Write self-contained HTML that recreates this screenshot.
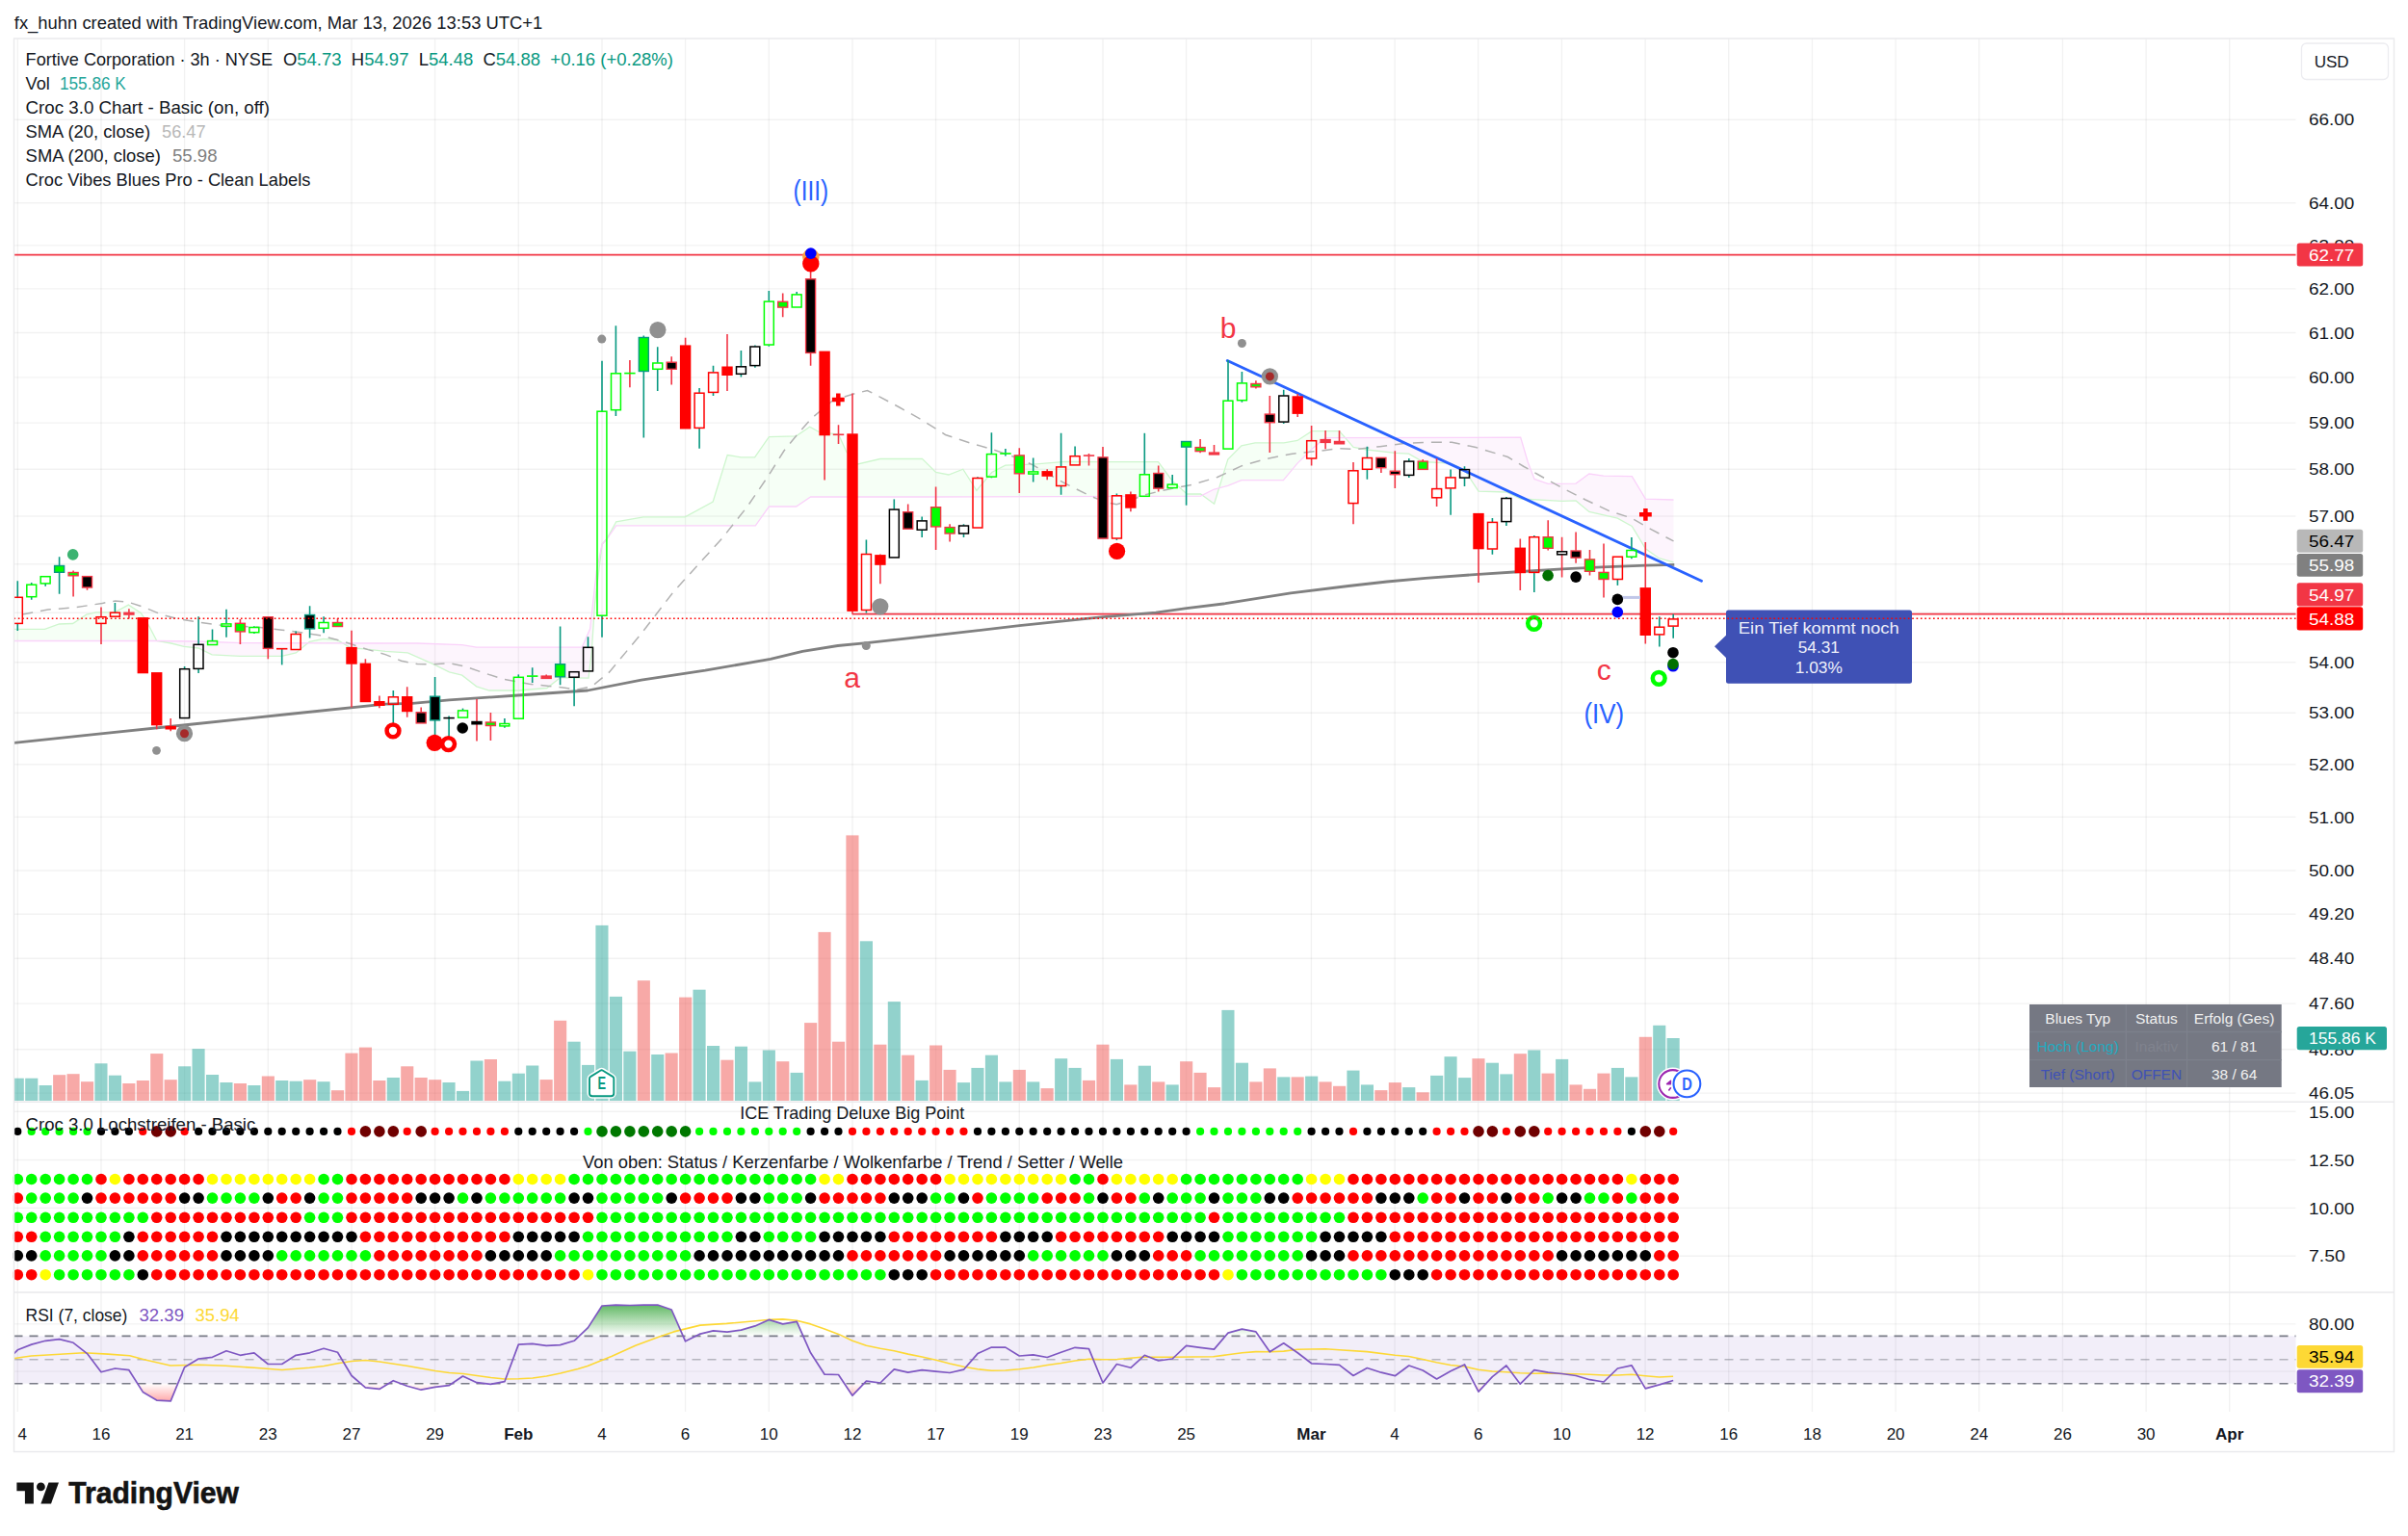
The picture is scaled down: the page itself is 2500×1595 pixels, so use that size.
<!DOCTYPE html>
<html lang="en"><head><meta charset="utf-8"><title>Fortive Corporation chart</title>
<style>html,body{margin:0;padding:0;background:#fff}body{width:2500px;height:1595px;overflow:hidden}svg{display:block}</style>
</head><body>
<svg width="2500" height="1595" viewBox="0 0 2500 1595" font-family='"Liberation Sans", Arial, sans-serif'>
<rect width="2500" height="1595" fill="#fff"/>
<g stroke="#000" stroke-opacity="0.05" stroke-width="1.4" fill="none">
<path d="M18.3 40V1466"/>
<path d="M105 40V1466"/>
<path d="M191.6 40V1466"/>
<path d="M278.3 40V1466"/>
<path d="M365 40V1466"/>
<path d="M451.6 40V1466"/>
<path d="M538.3 40V1466"/>
<path d="M625 40V1466"/>
<path d="M711.6 40V1466"/>
<path d="M798.3 40V1466"/>
<path d="M885 40V1466"/>
<path d="M971.6 40V1466"/>
<path d="M1058.3 40V1466"/>
<path d="M1145 40V1466"/>
<path d="M1231.6 40V1466"/>
<path d="M1361.4 40V1466"/>
<path d="M1448.1 40V1466"/>
<path d="M1534.7 40V1466"/>
<path d="M1621.4 40V1466"/>
<path d="M1708.1 40V1466"/>
<path d="M1794.7 40V1466"/>
<path d="M1881.4 40V1466"/>
<path d="M1968.1 40V1466"/>
<path d="M2054.7 40V1466"/>
<path d="M2141.4 40V1466"/>
<path d="M2228.1 40V1466"/>
<path d="M2314.7 40V1466"/>
<path d="M14.5 124.3H2383.5"/>
<path d="M14.5 210.7H2383.5"/>
<path d="M14.5 254.9H2383.5"/>
<path d="M14.5 299.9H2383.5"/>
<path d="M14.5 345.5H2383.5"/>
<path d="M14.5 391.9H2383.5"/>
<path d="M14.5 439.1H2383.5"/>
<path d="M14.5 487.2H2383.5"/>
<path d="M14.5 536H2383.5"/>
<path d="M14.5 585.7H2383.5"/>
<path d="M14.5 636.3H2383.5"/>
<path d="M14.5 687.8H2383.5"/>
<path d="M14.5 740.3H2383.5"/>
<path d="M14.5 793.8H2383.5"/>
<path d="M14.5 848.4H2383.5"/>
<path d="M14.5 904H2383.5"/>
<path d="M14.5 949.3H2383.5"/>
<path d="M14.5 995.3H2383.5"/>
<path d="M14.5 1042.1H2383.5"/>
<path d="M14.5 1089.7H2383.5"/>
<path d="M14.5 1135.1H2383.5"/>
<path d="M14.5 1154.3H2383.5"/>
<path d="M14.5 1204.5H2383.5"/>
<path d="M14.5 1254.4H2383.5"/>
<path d="M14.5 1304.2H2383.5"/>
<path d="M14.5 1374.9H2383.5"/>
<path d="M14.5 1424.1H2383.5"/>
</g>
<rect x="14.5" y="1387.4" width="2369" height="49.3" fill="#7e57c2" fill-opacity="0.1"/>
<g stroke-width="1.6" fill="none" stroke-dasharray="9 7"><path d="M14.5 1387.4H2383.5" stroke="#787b86"/><path d="M14.5 1436.7H2383.5" stroke="#787b86"/><path d="M14.5 1411.8H2383.5" stroke="#787b86" stroke-opacity="0.5"/></g>
<g>
<rect x="14.5" y="1119.7" width="10.3" height="23.3" fill="#26a69a" fill-opacity="0.5"/>
<rect x="26.2" y="1119.7" width="13.1" height="23.3" fill="#26a69a" fill-opacity="0.5"/>
<rect x="40.6" y="1127" width="13.1" height="16" fill="#26a69a" fill-opacity="0.5"/>
<rect x="55.1" y="1116.2" width="13.1" height="26.8" fill="#ef5350" fill-opacity="0.5"/>
<rect x="69.5" y="1115.2" width="13.1" height="27.8" fill="#ef5350" fill-opacity="0.5"/>
<rect x="84" y="1123.2" width="13.1" height="19.8" fill="#ef5350" fill-opacity="0.5"/>
<rect x="98.4" y="1104.3" width="13.1" height="38.7" fill="#26a69a" fill-opacity="0.5"/>
<rect x="112.9" y="1116.7" width="13.1" height="26.3" fill="#26a69a" fill-opacity="0.5"/>
<rect x="127.3" y="1125" width="13.1" height="18" fill="#ef5350" fill-opacity="0.5"/>
<rect x="141.8" y="1122" width="13.1" height="21" fill="#ef5350" fill-opacity="0.5"/>
<rect x="156.2" y="1094.1" width="13.1" height="48.9" fill="#ef5350" fill-opacity="0.5"/>
<rect x="170.6" y="1121.2" width="13.1" height="21.8" fill="#ef5350" fill-opacity="0.5"/>
<rect x="185.1" y="1107.3" width="13.1" height="35.7" fill="#26a69a" fill-opacity="0.5"/>
<rect x="199.5" y="1089.1" width="13.1" height="53.9" fill="#26a69a" fill-opacity="0.5"/>
<rect x="214" y="1116" width="13.1" height="27" fill="#26a69a" fill-opacity="0.5"/>
<rect x="228.4" y="1124" width="13.1" height="19" fill="#26a69a" fill-opacity="0.5"/>
<rect x="242.9" y="1125" width="13.1" height="18" fill="#ef5350" fill-opacity="0.5"/>
<rect x="257.3" y="1127" width="13.1" height="16" fill="#26a69a" fill-opacity="0.5"/>
<rect x="271.8" y="1117.5" width="13.1" height="25.5" fill="#ef5350" fill-opacity="0.5"/>
<rect x="286.2" y="1122" width="13.1" height="21" fill="#26a69a" fill-opacity="0.5"/>
<rect x="300.6" y="1122.7" width="13.1" height="20.3" fill="#26a69a" fill-opacity="0.5"/>
<rect x="315.1" y="1121.2" width="13.1" height="21.8" fill="#ef5350" fill-opacity="0.5"/>
<rect x="329.5" y="1123.2" width="13.1" height="19.8" fill="#26a69a" fill-opacity="0.5"/>
<rect x="344" y="1132.2" width="13.1" height="10.8" fill="#ef5350" fill-opacity="0.5"/>
<rect x="358.4" y="1093.6" width="13.1" height="49.4" fill="#ef5350" fill-opacity="0.5"/>
<rect x="372.9" y="1087.6" width="13.1" height="55.4" fill="#ef5350" fill-opacity="0.5"/>
<rect x="387.3" y="1122" width="13.1" height="21" fill="#ef5350" fill-opacity="0.5"/>
<rect x="401.8" y="1119" width="13.1" height="24" fill="#26a69a" fill-opacity="0.5"/>
<rect x="416.2" y="1107.3" width="13.1" height="35.7" fill="#ef5350" fill-opacity="0.5"/>
<rect x="430.6" y="1119" width="13.1" height="24" fill="#ef5350" fill-opacity="0.5"/>
<rect x="445.1" y="1121.2" width="13.1" height="21.8" fill="#ef5350" fill-opacity="0.5"/>
<rect x="459.5" y="1124" width="13.1" height="19" fill="#26a69a" fill-opacity="0.5"/>
<rect x="474" y="1132.9" width="13.1" height="10.1" fill="#26a69a" fill-opacity="0.5"/>
<rect x="488.4" y="1101.5" width="13.1" height="41.5" fill="#26a69a" fill-opacity="0.5"/>
<rect x="502.9" y="1100" width="13.1" height="43" fill="#ef5350" fill-opacity="0.5"/>
<rect x="517.3" y="1122.7" width="13.1" height="20.3" fill="#26a69a" fill-opacity="0.5"/>
<rect x="531.8" y="1114.7" width="13.1" height="28.3" fill="#26a69a" fill-opacity="0.5"/>
<rect x="546.2" y="1106.5" width="13.1" height="36.5" fill="#26a69a" fill-opacity="0.5"/>
<rect x="560.6" y="1121.1" width="13.1" height="21.9" fill="#ef5350" fill-opacity="0.5"/>
<rect x="575.1" y="1059.8" width="13.1" height="83.2" fill="#ef5350" fill-opacity="0.5"/>
<rect x="589.5" y="1081.7" width="13.1" height="61.3" fill="#26a69a" fill-opacity="0.5"/>
<rect x="604" y="1105.9" width="13.1" height="37.1" fill="#26a69a" fill-opacity="0.5"/>
<rect x="618.4" y="960.9" width="13.1" height="182.1" fill="#26a69a" fill-opacity="0.5"/>
<rect x="632.9" y="1034.9" width="13.1" height="108.1" fill="#26a69a" fill-opacity="0.5"/>
<rect x="647.3" y="1091.7" width="13.1" height="51.3" fill="#26a69a" fill-opacity="0.5"/>
<rect x="661.8" y="1018.2" width="13.1" height="124.8" fill="#ef5350" fill-opacity="0.5"/>
<rect x="676.2" y="1095" width="13.1" height="48" fill="#26a69a" fill-opacity="0.5"/>
<rect x="690.6" y="1093.5" width="13.1" height="49.5" fill="#ef5350" fill-opacity="0.5"/>
<rect x="705.1" y="1035.6" width="13.1" height="107.4" fill="#ef5350" fill-opacity="0.5"/>
<rect x="719.5" y="1027.7" width="13.1" height="115.3" fill="#26a69a" fill-opacity="0.5"/>
<rect x="734" y="1086" width="13.1" height="57" fill="#26a69a" fill-opacity="0.5"/>
<rect x="748.4" y="1100.7" width="13.1" height="42.3" fill="#ef5350" fill-opacity="0.5"/>
<rect x="762.9" y="1086.7" width="13.1" height="56.3" fill="#26a69a" fill-opacity="0.5"/>
<rect x="777.3" y="1123.4" width="13.1" height="19.6" fill="#26a69a" fill-opacity="0.5"/>
<rect x="791.8" y="1090.5" width="13.1" height="52.5" fill="#26a69a" fill-opacity="0.5"/>
<rect x="806.2" y="1102.2" width="13.1" height="40.8" fill="#ef5350" fill-opacity="0.5"/>
<rect x="820.6" y="1113.9" width="13.1" height="29.1" fill="#26a69a" fill-opacity="0.5"/>
<rect x="835.1" y="1062.1" width="13.1" height="80.9" fill="#ef5350" fill-opacity="0.5"/>
<rect x="849.5" y="967.9" width="13.1" height="175.1" fill="#ef5350" fill-opacity="0.5"/>
<rect x="864" y="1081.7" width="13.1" height="61.3" fill="#ef5350" fill-opacity="0.5"/>
<rect x="878.4" y="867.4" width="13.1" height="275.6" fill="#ef5350" fill-opacity="0.5"/>
<rect x="892.9" y="977.3" width="13.1" height="165.7" fill="#26a69a" fill-opacity="0.5"/>
<rect x="907.3" y="1084.7" width="13.1" height="58.3" fill="#ef5350" fill-opacity="0.5"/>
<rect x="921.8" y="1040.1" width="13.1" height="102.9" fill="#26a69a" fill-opacity="0.5"/>
<rect x="936.2" y="1095.7" width="13.1" height="47.3" fill="#ef5350" fill-opacity="0.5"/>
<rect x="950.6" y="1121.9" width="13.1" height="21.1" fill="#26a69a" fill-opacity="0.5"/>
<rect x="965.1" y="1085.5" width="13.1" height="57.5" fill="#ef5350" fill-opacity="0.5"/>
<rect x="979.5" y="1110.9" width="13.1" height="32.1" fill="#ef5350" fill-opacity="0.5"/>
<rect x="994" y="1124.1" width="13.1" height="18.9" fill="#26a69a" fill-opacity="0.5"/>
<rect x="1008.4" y="1108.9" width="13.1" height="34.1" fill="#26a69a" fill-opacity="0.5"/>
<rect x="1022.9" y="1095.7" width="13.1" height="47.3" fill="#26a69a" fill-opacity="0.5"/>
<rect x="1037.3" y="1123.4" width="13.1" height="19.6" fill="#26a69a" fill-opacity="0.5"/>
<rect x="1051.8" y="1110.9" width="13.1" height="32.1" fill="#ef5350" fill-opacity="0.5"/>
<rect x="1066.2" y="1123.4" width="13.1" height="19.6" fill="#26a69a" fill-opacity="0.5"/>
<rect x="1080.6" y="1130.1" width="13.1" height="12.9" fill="#ef5350" fill-opacity="0.5"/>
<rect x="1095.1" y="1099.2" width="13.1" height="43.8" fill="#26a69a" fill-opacity="0.5"/>
<rect x="1109.5" y="1108.9" width="13.1" height="34.1" fill="#26a69a" fill-opacity="0.5"/>
<rect x="1124" y="1121.9" width="13.1" height="21.1" fill="#ef5350" fill-opacity="0.5"/>
<rect x="1138.4" y="1084.7" width="13.1" height="58.3" fill="#ef5350" fill-opacity="0.5"/>
<rect x="1152.9" y="1099.9" width="13.1" height="43.1" fill="#26a69a" fill-opacity="0.5"/>
<rect x="1167.3" y="1126.4" width="13.1" height="16.6" fill="#ef5350" fill-opacity="0.5"/>
<rect x="1181.8" y="1106.7" width="13.1" height="36.3" fill="#26a69a" fill-opacity="0.5"/>
<rect x="1196.2" y="1123.4" width="13.1" height="19.6" fill="#ef5350" fill-opacity="0.5"/>
<rect x="1210.6" y="1126.4" width="13.1" height="16.6" fill="#26a69a" fill-opacity="0.5"/>
<rect x="1225.1" y="1102.2" width="13.1" height="40.8" fill="#ef5350" fill-opacity="0.5"/>
<rect x="1239.5" y="1113.9" width="13.1" height="29.1" fill="#ef5350" fill-opacity="0.5"/>
<rect x="1254" y="1129.1" width="13.1" height="13.9" fill="#ef5350" fill-opacity="0.5"/>
<rect x="1268.4" y="1048.9" width="13.1" height="94.1" fill="#26a69a" fill-opacity="0.5"/>
<rect x="1282.9" y="1103.7" width="13.1" height="39.3" fill="#26a69a" fill-opacity="0.5"/>
<rect x="1297.3" y="1123.4" width="13.1" height="19.6" fill="#ef5350" fill-opacity="0.5"/>
<rect x="1311.8" y="1109.4" width="13.1" height="33.6" fill="#ef5350" fill-opacity="0.5"/>
<rect x="1326.2" y="1118.4" width="13.1" height="24.6" fill="#26a69a" fill-opacity="0.5"/>
<rect x="1340.6" y="1118.4" width="13.1" height="24.6" fill="#ef5350" fill-opacity="0.5"/>
<rect x="1355.1" y="1117.6" width="13.1" height="25.4" fill="#26a69a" fill-opacity="0.5"/>
<rect x="1369.5" y="1123.4" width="13.1" height="19.6" fill="#ef5350" fill-opacity="0.5"/>
<rect x="1384" y="1127.8" width="13.1" height="15.2" fill="#ef5350" fill-opacity="0.5"/>
<rect x="1398.4" y="1111.6" width="13.1" height="31.4" fill="#26a69a" fill-opacity="0.5"/>
<rect x="1412.9" y="1126.4" width="13.1" height="16.6" fill="#26a69a" fill-opacity="0.5"/>
<rect x="1427.3" y="1132.1" width="13.1" height="10.9" fill="#ef5350" fill-opacity="0.5"/>
<rect x="1441.8" y="1124.1" width="13.1" height="18.9" fill="#ef5350" fill-opacity="0.5"/>
<rect x="1456.2" y="1129.1" width="13.1" height="13.9" fill="#26a69a" fill-opacity="0.5"/>
<rect x="1470.6" y="1134.3" width="13.1" height="8.7" fill="#ef5350" fill-opacity="0.5"/>
<rect x="1485.1" y="1116.9" width="13.1" height="26.1" fill="#26a69a" fill-opacity="0.5"/>
<rect x="1499.5" y="1097.2" width="13.1" height="45.8" fill="#26a69a" fill-opacity="0.5"/>
<rect x="1514" y="1119.1" width="13.1" height="23.9" fill="#26a69a" fill-opacity="0.5"/>
<rect x="1528.4" y="1099.2" width="13.1" height="43.8" fill="#ef5350" fill-opacity="0.5"/>
<rect x="1542.9" y="1103.7" width="13.1" height="39.3" fill="#26a69a" fill-opacity="0.5"/>
<rect x="1557.3" y="1115.4" width="13.1" height="27.6" fill="#26a69a" fill-opacity="0.5"/>
<rect x="1571.8" y="1094.2" width="13.1" height="48.8" fill="#ef5350" fill-opacity="0.5"/>
<rect x="1586.2" y="1090.5" width="13.1" height="52.5" fill="#26a69a" fill-opacity="0.5"/>
<rect x="1600.6" y="1114.6" width="13.1" height="28.4" fill="#ef5350" fill-opacity="0.5"/>
<rect x="1615.1" y="1099.9" width="13.1" height="43.1" fill="#26a69a" fill-opacity="0.5"/>
<rect x="1629.5" y="1126.4" width="13.1" height="16.6" fill="#ef5350" fill-opacity="0.5"/>
<rect x="1644" y="1130.8" width="13.1" height="12.2" fill="#ef5350" fill-opacity="0.5"/>
<rect x="1658.4" y="1114.6" width="13.1" height="28.4" fill="#ef5350" fill-opacity="0.5"/>
<rect x="1672.9" y="1108.9" width="13.1" height="34.1" fill="#26a69a" fill-opacity="0.5"/>
<rect x="1687.3" y="1118.4" width="13.1" height="24.6" fill="#26a69a" fill-opacity="0.5"/>
<rect x="1701.8" y="1076.8" width="13.1" height="66.2" fill="#ef5350" fill-opacity="0.5"/>
<rect x="1716.2" y="1064.8" width="13.1" height="78.2" fill="#26a69a" fill-opacity="0.5"/>
<rect x="1730.6" y="1078" width="13.1" height="65" fill="#26a69a" fill-opacity="0.5"/>
</g>
<polygon points="14.6,653.4 16.6,653.4 18.6,653.4 20.6,653.4 22.6,653.4 24.6,653.4 26.6,653.4 28.6,653.4 30.6,653.4 32.6,653.4 34.6,653.4 36.6,653.4 38.6,653.4 40.6,653.4 42.6,653.4 44.6,653.4 46.6,653.4 48.6,652.6 50.6,651.9 52.6,651.2 54.6,650.5 56.6,649.8 58.6,649 60.6,648.3 62.6,648 64.6,647.9 66.6,647.8 68.6,647.7 70.6,647.7 72.6,647.6 74.6,647.5 76.6,646.8 78.6,645.5 80.6,644.2 82.6,642.8 84.6,641.5 86.6,640.2 88.6,638.8 90.6,637.9 92.6,637.5 94.6,637 96.6,636.6 98.6,636.1 100.6,635.9 102.6,635.9 104.6,635.8 106.6,635.8 108.6,635.8 110.6,635.7 112.6,635.7 114.6,635.7 116.6,635.6 118.6,635.6 120.6,635.1 122.6,634 124.6,632.9 126.6,631.8 128.6,630.7 130.6,629.6 132.6,628.5 134.6,628.9 136.6,630.2 138.6,631.5 140.6,632.8 142.6,634.1 144.6,635.4 146.6,637 148.6,640 150.6,643.1 152.6,646.1 154.6,649.8 156.6,653.7 158.6,657.5 160.6,661.3 162.6,665.1 164.6,665.8 164.6,665.5 162.6,665.5 160.6,665.5 158.6,665.5 156.6,665.5 154.6,665.5 152.6,665.5 150.6,665.5 148.6,665.5 146.6,665.5 144.6,665.5 142.6,665.5 140.6,665.5 138.6,665.5 136.6,665.5 134.6,665.5 132.6,665.5 130.6,665.5 128.6,665.5 126.6,665.5 124.6,665.5 122.6,665.5 120.6,665.5 118.6,665.5 116.6,665.5 114.6,665.5 112.6,665.5 110.6,665.5 108.6,665.5 106.6,665.5 104.6,665.5 102.6,665.5 100.6,665.5 98.6,665.5 96.6,665.5 94.6,665.5 92.6,665.5 90.6,665.5 88.6,665.5 86.6,665.5 84.6,665.5 82.6,665.5 80.6,665.5 78.6,665.5 76.6,665.5 74.6,665.5 72.6,665.5 70.6,665.5 68.6,665.5 66.6,665.5 64.6,665.5 62.6,665.5 60.6,665.5 58.6,665.5 56.6,665.5 54.6,665.5 52.6,665.5 50.6,665.5 48.6,665.5 46.6,665.5 44.6,665.5 42.6,665.5 40.6,665.5 38.6,665.5 36.6,665.5 34.6,665.5 32.6,665.5 30.6,665.5 28.6,665.5 26.6,665.5 24.6,665.5 22.6,665.5 20.6,665.5 18.6,665.5 16.6,665.5 14.6,665.5" fill="#00ff00" fill-opacity="0.035"/>
<polygon points="164.6,665.8 166.6,666.1 168.6,666.5 170.6,666.8 172.6,667.1 174.6,667.5 176.6,667.8 178.6,668.2 180.6,668.7 182.6,669.2 184.6,669.7 186.6,670.2 188.6,670.7 190.6,671.2 192.6,671.5 194.6,671.7 196.6,671.9 198.6,672.2 200.6,672.4 202.6,672.6 204.6,672.8 206.6,673.3 208.6,674.3 210.6,675.3 212.6,676.2 214.6,677.2 216.6,678.2 218.6,679.2 220.6,679.9 222.6,680 224.6,680.1 226.6,680.2 228.6,680.3 230.6,680.4 232.6,680.5 234.6,680.6 236.6,680.7 238.6,680.8 240.6,680.9 242.6,681 244.6,681.1 246.6,681.2 248.6,681.3 250.6,681.3 252.6,681.3 254.6,681.3 256.6,681.3 258.6,681.3 260.6,681.3 262.6,681.3 264.6,681.3 266.6,681.3 268.6,681.3 270.6,681.3 272.6,681.3 274.6,681.3 276.6,681.3 278.6,681.3 280.6,681.3 282.6,681.3 284.6,681.3 286.6,681.3 288.6,681.3 290.6,681.3 292.6,681.3 294.6,680.8 296.6,680.3 298.6,679.9 300.6,679.4 302.6,679 304.6,678.5 306.6,678.1 308.6,676.8 310.6,675.2 312.6,673.5 314.6,671.9 316.6,670.2 318.6,668.6 320.6,667 320.6,667.8 318.6,667.8 316.6,667.8 314.6,667.8 312.6,667.8 310.6,667.8 308.6,667.8 306.6,667.8 304.6,667.7 302.6,667.7 300.6,667.7 298.6,667.7 296.6,667.7 294.6,667.7 292.6,667.7 290.6,667.7 288.6,667.7 286.6,667.7 284.6,667.7 282.6,667.7 280.6,667.7 278.6,667.7 276.6,667.7 274.6,667.7 272.6,667.7 270.6,667.7 268.6,667.6 266.6,667.6 264.6,667.6 262.6,667.6 260.6,667.6 258.6,667.6 256.6,667.6 254.6,667.6 252.6,667.6 250.6,667.6 248.6,667.5 246.6,667.5 244.6,667.4 242.6,667.3 240.6,667.3 238.6,667.2 236.6,667.1 234.6,667 232.6,667 230.6,666.9 228.6,666.8 226.6,666.7 224.6,666.7 222.6,666.6 220.6,666.5 218.6,666.5 216.6,666.4 214.6,666.3 212.6,666.2 210.6,666.2 208.6,666.1 206.6,666 204.6,666 202.6,666 200.6,665.9 198.6,665.9 196.6,665.9 194.6,665.9 192.6,665.8 190.6,665.8 188.6,665.8 186.6,665.8 184.6,665.8 182.6,665.7 180.6,665.7 178.6,665.7 176.6,665.7 174.6,665.6 172.6,665.6 170.6,665.6 168.6,665.6 166.6,665.5 164.6,665.5" fill="#c800c8" fill-opacity="0.04"/>
<polygon points="320.6,667 322.6,666 324.6,665.6 326.6,665.2 328.6,664.8 330.6,664.3 332.6,663.9 334.6,663.5 336.6,663.4 338.6,663.6 340.6,663.8 342.6,664 344.6,664.1 346.6,664.3 348.6,664.5 350.6,664.8 352.6,665.9 354.6,667.1 356.6,668.3 356.6,667.9 354.6,667.9 352.6,667.9 350.6,667.9 348.6,667.9 346.6,667.9 344.6,667.9 342.6,667.8 340.6,667.8 338.6,667.8 336.6,667.8 334.6,667.8 332.6,667.8 330.6,667.8 328.6,667.8 326.6,667.8 324.6,667.8 322.6,667.8 320.6,667.8" fill="#00ff00" fill-opacity="0.035"/>
<polygon points="356.6,668.3 358.6,669.5 360.6,670.6 362.6,671.8 364.6,673 366.6,673.1 368.6,673.2 370.6,673.3 372.6,673.5 374.6,673.6 376.6,673.7 378.6,673.8 380.6,674 382.6,674.3 384.6,674.5 386.6,674.7 388.6,675 390.6,675.2 392.6,675.4 394.6,675.7 396.6,675.9 398.6,676.1 400.6,676.3 402.6,676.5 404.6,676.6 406.6,676.8 408.6,676.9 410.6,677 412.6,677.2 414.6,677.3 416.6,677.4 418.6,677.6 420.6,677.7 422.6,677.9 424.6,678.5 426.6,679.4 428.6,680.2 430.6,681.1 432.6,682 434.6,682.9 436.6,683.8 438.6,684.7 440.6,685.5 442.6,686.4 444.6,687.3 446.6,688.2 448.6,689.1 450.6,690 452.6,691 454.6,692 456.6,693 458.6,694 460.6,695 462.6,696 464.6,697 466.6,697.9 468.6,698.4 470.6,698.9 472.6,699.4 474.6,699.9 476.6,700.4 478.6,700.9 480.6,701.9 482.6,703.4 484.6,705 486.6,706.5 488.6,708.1 490.6,709.6 492.6,711.2 494.6,712.7 496.6,713.4 498.6,714 500.6,714.7 502.6,715.3 504.6,715.9 506.6,716.6 508.6,717 510.6,717 512.6,717 514.6,717 516.6,717 518.6,717 520.6,717 522.6,717 524.6,717 526.6,717 528.6,717 530.6,717 532.6,717 534.6,717 536.6,717 538.6,716.9 540.6,716.8 542.6,716.6 544.6,716.4 546.6,716.3 548.6,716.1 550.6,715.9 552.6,715.8 554.6,715.6 556.6,715.4 558.6,715.3 560.6,715.1 562.6,714.9 564.6,714.8 566.6,714.6 568.6,713.9 570.6,712.3 572.6,710.7 574.6,709.2 576.6,707.6 578.6,706 580.6,704.5 582.6,703.7 584.6,703.8 586.6,703.8 588.6,703.8 590.6,703.9 592.6,703.9 594.6,703.9 596.6,704 598.6,704 600.6,704 602.6,704.1 604.6,704.1 606.6,704.1 608.6,704.2 610.6,704.2 612.6,690.7 614.6,671.8 616.6,641.5 618.6,618.2 620.6,601.8 622.6,585.5 624.6,569.1 626.6,563.4 626.6,563.4 624.6,567.4 622.6,577.2 620.6,586.9 618.6,599.4 616.6,617.3 614.6,635.1 612.6,653 610.6,657.6 608.6,662.2 606.6,666.8 604.6,671.4 602.6,672.1 600.6,672.1 598.6,672.1 596.6,672.1 594.6,672.1 592.6,672.1 590.6,672.1 588.6,672.1 586.6,672.1 584.6,672.1 582.6,672.1 580.6,672.1 578.6,672.1 576.6,672.1 574.6,672.1 572.6,672.1 570.6,672.1 568.6,672.1 566.6,672.1 564.6,672.1 562.6,672.1 560.6,672.1 558.6,672.1 556.6,672.1 554.6,672.1 552.6,672.1 550.6,672.1 548.6,672.1 546.6,672.1 544.6,672.1 542.6,672.1 540.6,672.1 538.6,672.1 536.6,672.1 534.6,672.1 532.6,672.1 530.6,672.1 528.6,672.1 526.6,672.1 524.6,672.1 522.6,672.1 520.6,672.1 518.6,672.1 516.6,672.1 514.6,672.1 512.6,672.1 510.6,672.1 508.6,672.1 506.6,672.1 504.6,672.1 502.6,672.1 500.6,672.1 498.6,672.1 496.6,672.1 494.6,672.1 492.6,671.8 490.6,671.4 488.6,671.1 486.6,670.8 484.6,670.4 482.6,670.1 480.6,669.8 478.6,669.6 476.6,669.5 474.6,669.4 472.6,669.4 470.6,669.3 468.6,669.2 466.6,669.1 464.6,669.1 462.6,669 460.6,668.9 458.6,668.9 456.6,668.8 454.6,668.7 452.6,668.7 450.6,668.6 448.6,668.5 446.6,668.5 444.6,668.4 442.6,668.3 440.6,668.3 438.6,668.2 436.6,668.1 434.6,668 432.6,668 430.6,668 428.6,668 426.6,668 424.6,668 422.6,668 420.6,668 418.6,668 416.6,668 414.6,668 412.6,668 410.6,668 408.6,668 406.6,668 404.6,668 402.6,668 400.6,668 398.6,668 396.6,668 394.6,668 392.6,668 390.6,668 388.6,668 386.6,668 384.6,668 382.6,668 380.6,667.9 378.6,667.9 376.6,667.9 374.6,667.9 372.6,667.9 370.6,667.9 368.6,667.9 366.6,667.9 364.6,667.9 362.6,667.9 360.6,667.9 358.6,667.9 356.6,667.9" fill="#c800c8" fill-opacity="0.04"/>
<polygon points="626.6,563.4 628.6,561.3 630.6,558.5 632.6,554.9 634.6,551.2 636.6,547.5 638.6,543.8 640.6,541.6 642.6,541.3 644.6,540.9 646.6,540.6 648.6,540.2 650.6,539.9 652.6,539.5 654.6,539.2 656.6,538.8 658.6,538.5 660.6,538.1 662.6,537.8 664.6,537.4 666.6,537 668.6,536.8 670.6,536.8 672.6,536.8 674.6,536.8 676.6,536.8 678.6,536.8 680.6,536.8 682.6,536.8 684.6,536.8 686.6,536.8 688.6,536.8 690.6,536.8 692.6,536.8 694.6,536.8 696.6,536.8 698.6,536.8 700.6,536.8 702.6,536.8 704.6,536.8 706.6,536.8 708.6,536.8 710.6,536.8 712.6,536 714.6,534.9 716.6,533.9 718.6,532.8 720.6,531.7 722.6,530.6 724.6,529.5 726.6,528.4 728.6,527.3 730.6,526.2 732.6,525.1 734.6,524.1 736.6,523 738.6,521.9 740.6,519.7 742.6,513.2 744.6,506.8 746.6,500.3 748.6,493.8 750.6,487.4 752.6,480.9 754.6,474.4 756.6,472.7 758.6,473.1 760.6,473.4 762.6,473.7 764.6,474 766.6,474.4 768.6,474.7 770.6,474.8 772.6,474.8 774.6,474.8 776.6,474.8 778.6,474.8 780.6,474.8 782.6,474.8 784.6,473.4 786.6,470.5 788.6,467.7 790.6,464.8 792.6,462 794.6,459.1 796.6,456.3 798.6,453.7 800.6,453.6 802.6,453.6 804.6,453.5 806.6,453.5 808.6,453.4 810.6,453.4 812.6,453.3 814.6,453.2 816.6,453.2 818.6,453.1 820.6,453.1 822.6,453 824.6,453 826.6,452.9 828.6,451.5 830.6,450.2 832.6,448.8 834.6,447.5 836.6,446.1 838.6,444.7 840.6,443.4 842.6,444.3 844.6,445.4 846.6,446.5 848.6,447.6 850.6,448.6 852.6,448.9 854.6,449.2 856.6,449.4 858.6,449.7 860.6,449.9 862.6,450.2 864.6,450.4 866.6,450.7 868.6,450.9 870.6,451.2 872.6,455.6 874.6,460 876.6,464.4 878.6,468.8 880.6,471.3 882.6,473.5 884.6,475.6 886.6,477.7 888.6,479.9 890.6,482 892.6,481.5 894.6,481.1 896.6,480.6 898.6,480.1 900.6,479.6 902.6,479.2 904.6,478.7 906.6,478.2 908.6,477.7 910.6,477.3 912.6,476.8 914.6,476.5 916.6,476.5 918.6,476.5 920.6,476.5 922.6,476.5 924.6,476.5 926.6,476.5 928.6,476.5 930.6,476.5 932.6,476.5 934.6,476.5 936.6,476.4 938.6,476.4 940.6,476.4 942.6,476.4 944.6,476.4 946.6,476.4 948.6,476.4 950.6,476.4 952.6,476.4 954.6,476.4 956.6,476.4 958.6,477.6 960.6,479.6 962.6,481.6 964.6,483.5 966.6,485.5 968.6,487.5 970.6,489.5 972.6,490.7 974.6,491.1 976.6,491.4 978.6,491.8 980.6,492.2 982.6,492.6 984.6,492.9 986.6,492.3 988.6,491.6 990.6,490.8 992.6,490 994.6,489.2 996.6,488.4 998.6,487.7 1000.6,488.5 1002.6,491.6 1004.6,494.7 1006.6,497.9 1008.6,501 1010.6,504.1 1012.6,507.3 1014.6,508.5 1016.6,506.1 1018.6,503.7 1020.6,501.3 1022.6,498.9 1024.6,496.6 1026.6,494.2 1028.6,491.8 1030.6,490 1032.6,489 1034.6,487.9 1036.6,486.9 1038.6,485.8 1040.6,484.8 1042.6,483.7 1044.6,483.1 1046.6,483 1048.6,483 1050.6,482.9 1052.6,482.8 1054.6,482.8 1056.6,482.7 1058.6,482.6 1060.6,482.6 1062.6,482.5 1064.6,482.5 1066.6,482.4 1068.6,482.3 1070.6,482.3 1072.6,482.2 1074.6,482.1 1076.6,481.9 1078.6,481.7 1080.6,481.6 1082.6,481.4 1084.6,481.2 1086.6,481 1088.6,480.9 1090.6,480.7 1092.6,480.5 1094.6,480.4 1096.6,480.2 1098.6,480 1100.6,479.9 1102.6,479.7 1104.6,479.5 1106.6,479.4 1108.6,479.4 1110.6,479.4 1112.6,479.4 1114.6,479.4 1116.6,479.5 1118.6,479.5 1120.6,479.5 1122.6,479.5 1124.6,479.5 1126.6,479.5 1128.6,479.5 1130.6,479.5 1132.6,479.5 1134.6,479.6 1136.6,479.6 1138.6,479.6 1140.6,479.6 1142.6,479.6 1144.6,479.6 1146.6,479.6 1148.6,479.6 1150.6,479.7 1152.6,479.7 1154.6,479.7 1156.6,479.7 1158.6,479.7 1160.6,479.7 1162.6,479.7 1164.6,479.7 1166.6,479.7 1168.6,479.7 1170.6,479.7 1172.6,479.7 1174.6,479.7 1176.6,479.7 1178.6,479.7 1180.6,479.7 1182.6,479.7 1184.6,479.7 1186.6,479.7 1188.6,479.7 1190.6,479.7 1192.6,479.7 1194.6,479.7 1196.6,479.7 1198.6,479.7 1200.6,479.7 1202.6,479.8 1204.6,482.5 1206.6,485.2 1208.6,487.9 1210.6,490.6 1212.6,493.3 1214.6,495.9 1216.6,498.6 1218.6,500.8 1220.6,502.5 1222.6,504.3 1224.6,506.1 1226.6,507.9 1228.6,509.6 1230.6,511.4 1232.6,513 1234.6,513 1236.6,513 1238.6,513 1240.6,513 1242.6,513 1244.6,513 1246.6,513.1 1248.6,514.5 1248.6,514 1246.6,515 1244.6,515.1 1242.6,515.1 1240.6,515.1 1238.6,515.1 1236.6,515.1 1234.6,515.1 1232.6,515.1 1230.6,515.1 1228.6,515.2 1226.6,515.2 1224.6,515.2 1222.6,515.2 1220.6,515.2 1218.6,515.2 1216.6,515.2 1214.6,515.2 1212.6,515.2 1210.6,515.2 1208.6,515.2 1206.6,515.2 1204.6,515.2 1202.6,515.2 1200.6,515.2 1198.6,515.3 1196.6,515.3 1194.6,515.3 1192.6,515.3 1190.6,515.3 1188.6,515.3 1186.6,515.3 1184.6,515.3 1182.6,515.3 1180.6,515.3 1178.6,515.3 1176.6,515.3 1174.6,515.3 1172.6,515.3 1170.6,515.3 1168.6,515.3 1166.6,515.4 1164.6,515.4 1162.6,515.4 1160.6,515.4 1158.6,515.4 1156.6,515.4 1154.6,515.4 1152.6,515.4 1150.6,515.4 1148.6,515.4 1146.6,515.4 1144.6,515.4 1142.6,515.4 1140.6,515.4 1138.6,515.4 1136.6,515.4 1134.6,515.5 1132.6,515.5 1130.6,515.5 1128.6,515.5 1126.6,515.5 1124.6,515.5 1122.6,515.5 1120.6,515.5 1118.6,515.5 1116.6,515.5 1114.6,515.5 1112.6,515.5 1110.6,515.5 1108.6,515.5 1106.6,515.5 1104.6,515.5 1102.6,515.6 1100.6,515.6 1098.6,515.6 1096.6,515.6 1094.6,515.6 1092.6,515.6 1090.6,515.6 1088.6,515.6 1086.6,515.6 1084.6,515.6 1082.6,515.6 1080.6,515.6 1078.6,515.6 1076.6,515.6 1074.6,515.6 1072.6,515.6 1070.6,515.7 1068.6,515.7 1066.6,515.7 1064.6,515.7 1062.6,515.7 1060.6,515.7 1058.6,515.7 1056.6,515.7 1054.6,515.7 1052.6,515.7 1050.6,515.7 1048.6,515.7 1046.6,515.7 1044.6,515.7 1042.6,515.7 1040.6,515.7 1038.6,515.8 1036.6,515.8 1034.6,515.8 1032.6,515.8 1030.6,515.8 1028.6,515.8 1026.6,515.8 1024.6,515.8 1022.6,515.8 1020.6,515.8 1018.6,515.8 1016.6,515.8 1014.6,515.8 1012.6,515.8 1010.6,515.8 1008.6,515.8 1006.6,515.9 1004.6,515.9 1002.6,515.9 1000.6,515.9 998.6,515.9 996.6,515.9 994.6,515.9 992.6,515.9 990.6,515.9 988.6,515.9 986.6,515.9 984.6,515.9 982.6,515.9 980.6,515.9 978.6,515.9 976.6,515.9 974.6,516 972.6,516 970.6,516 968.6,516 966.6,516 964.6,516 962.6,516 960.6,516 958.6,516 956.6,516 954.6,516 952.6,516 950.6,516 948.6,516 946.6,516 944.6,516 942.6,516 940.6,516 938.6,516 936.6,516 934.6,516 932.6,516 930.6,516 928.6,516 926.6,516 924.6,516 922.6,516 920.6,516 918.6,516 916.6,516 914.6,516 912.6,516 910.6,516 908.6,516 906.6,516 904.6,516 902.6,516 900.6,516 898.6,516 896.6,516 894.6,516 892.6,516 890.6,516 888.6,516 886.6,516 884.6,516 882.6,516 880.6,516 878.6,516 876.6,516 874.6,516 872.6,516 870.6,516 868.6,516 866.6,516 864.6,516 862.6,516 860.6,516 858.6,516 856.6,516 854.6,516 852.6,516 850.6,516 848.6,516 846.6,516 844.6,516 842.6,516 840.6,516.7 838.6,518 836.6,519.3 834.6,520.7 832.6,522 830.6,523.3 828.6,524.7 826.6,526 824.6,526 822.6,526 820.6,526 818.6,526 816.6,526 814.6,526 812.6,526 810.6,526 808.6,526 806.6,526 804.6,526 802.6,526 800.6,526 798.6,526 796.6,528.5 794.6,531.4 792.6,534.2 790.6,537 788.6,539.8 786.6,542.7 784.6,545.5 782.6,545.9 780.6,545.9 778.6,545.9 776.6,545.9 774.6,545.9 772.6,545.9 770.6,545.9 768.6,545.9 766.6,545.9 764.6,545.9 762.6,545.9 760.6,545.9 758.6,545.9 756.6,545.9 754.6,545.9 752.6,545.9 750.6,545.9 748.6,545.9 746.6,545.9 744.6,545.9 742.6,545.9 740.6,545.9 738.6,545.9 736.6,545.9 734.6,545.9 732.6,545.9 730.6,545.9 728.6,545.9 726.6,545.9 724.6,545.9 722.6,545.9 720.6,545.9 718.6,545.9 716.6,545.9 714.6,545.9 712.6,545.9 710.6,545.9 708.6,545.9 706.6,545.9 704.6,545.9 702.6,545.9 700.6,545.9 698.6,545.9 696.6,545.9 694.6,545.9 692.6,545.9 690.6,545.9 688.6,545.9 686.6,545.9 684.6,545.9 682.6,545.9 680.6,545.9 678.6,545.9 676.6,545.9 674.6,545.9 672.6,545.9 670.6,545.9 668.6,545.9 666.6,545.9 664.6,545.9 662.6,545.9 660.6,545.9 658.6,545.9 656.6,545.9 654.6,545.9 652.6,545.9 650.6,545.9 648.6,545.9 646.6,545.9 644.6,545.9 642.6,545.9 640.6,545.9 638.6,547.5 636.6,550.3 634.6,553.2 632.6,556 630.6,558.9 628.6,561.3 626.6,563.4" fill="#00ff00" fill-opacity="0.035"/>
<polygon points="1248.6,514.5 1250.6,516 1252.6,517.5 1254.6,518.9 1256.6,520.4 1258.6,521.8 1260.6,523.3 1262.6,516.8 1264.6,510.3 1266.6,503.7 1266.6,506.5 1264.6,507 1262.6,507.5 1260.6,508 1258.6,509 1256.6,510 1254.6,511 1252.6,512 1250.6,513 1248.6,514" fill="#c800c8" fill-opacity="0.04"/>
<polygon points="1266.6,503.7 1268.6,497.2 1270.6,490.7 1272.6,484.2 1274.6,477.7 1276.6,475.2 1278.6,473.2 1280.6,471.2 1282.6,469.2 1284.6,467.2 1286.6,465.2 1288.6,463.2 1290.6,462.5 1292.6,462.1 1294.6,461.7 1296.6,461.3 1298.6,460.8 1300.6,460.4 1302.6,460 1304.6,459.9 1306.6,459.9 1308.6,459.9 1310.6,459.9 1312.6,459.9 1314.6,459.9 1316.6,459.9 1318.6,459.9 1320.6,459.9 1322.6,459.9 1324.6,459.9 1326.6,459.9 1328.6,459.9 1330.6,459.9 1332.6,459.9 1334.6,459.6 1336.6,459.3 1338.6,458.9 1340.6,458.6 1342.6,458.2 1344.6,457.9 1346.6,457.6 1348.6,456.4 1350.6,455.1 1352.6,453.8 1354.6,452.5 1356.6,451.2 1358.6,449.8 1360.6,448.5 1362.6,447.6 1364.6,447.6 1366.6,447.6 1368.6,447.6 1370.6,447.6 1372.6,447.6 1374.6,447.6 1376.6,447.6 1378.6,447.6 1380.6,447.6 1382.6,447.6 1384.6,447.6 1386.6,447.6 1388.6,447.6 1390.6,447.7 1392.6,450 1394.6,452.3 1396.6,454.7 1396.6,454.6 1394.6,454.6 1392.6,454.6 1390.6,454.6 1388.6,454.6 1386.6,454.6 1384.6,454.6 1382.6,454.6 1380.6,454.6 1378.6,454.6 1376.6,454.6 1374.6,455.8 1372.6,457.5 1370.6,459.1 1368.6,460.8 1366.6,462.4 1364.6,464.1 1362.6,465.7 1360.6,467.6 1358.6,469.6 1356.6,471.6 1354.6,473.6 1352.6,475.5 1350.6,477.5 1348.6,479.5 1346.6,481.6 1344.6,484 1342.6,486.4 1340.6,488.8 1338.6,491.2 1336.6,493.6 1334.6,496 1332.6,498.4 1330.6,498.6 1328.6,498.6 1326.6,498.6 1324.6,498.6 1322.6,498.6 1320.6,498.6 1318.6,498.6 1316.6,498.6 1314.6,498.6 1312.6,498.6 1310.6,498.6 1308.6,498.6 1306.6,498.6 1304.6,498.6 1302.6,498.6 1300.6,498.6 1298.6,498.6 1296.6,498.6 1294.6,498.6 1292.6,498.6 1290.6,498.6 1288.6,498.7 1286.6,499.5 1284.6,500.4 1282.6,501.2 1280.6,502 1278.6,502.8 1276.6,503.7 1274.6,504.5 1272.6,505 1270.6,505.5 1268.6,506 1266.6,506.5" fill="#00ff00" fill-opacity="0.035"/>
<polygon points="1396.6,454.7 1398.6,457 1400.6,459.3 1402.6,461.6 1404.6,463.9 1406.6,464.8 1408.6,465.1 1410.6,465.5 1412.6,465.8 1414.6,466.2 1416.6,466.5 1418.6,466.9 1420.6,467.1 1422.6,467.4 1424.6,467.6 1426.6,467.8 1428.6,468.1 1430.6,468.3 1432.6,468.5 1434.6,468.7 1436.6,469 1438.6,469.2 1440.6,469.4 1442.6,469.7 1444.6,469.9 1446.6,470.1 1448.6,470.3 1450.6,470.4 1452.6,470.6 1454.6,470.7 1456.6,470.8 1458.6,471 1460.6,471.1 1462.6,471.3 1464.6,472.4 1466.6,473.5 1468.6,474.6 1470.6,475.7 1472.6,476.8 1474.6,477.9 1476.6,479.1 1478.6,479.6 1480.6,479.7 1482.6,479.8 1484.6,479.9 1486.6,480 1488.6,480.1 1490.6,480.2 1492.6,480.4 1494.6,480.5 1496.6,480.6 1498.6,480.7 1500.6,480.8 1502.6,480.9 1504.6,481 1506.6,481.4 1508.6,482.3 1510.6,483.3 1512.6,484.3 1514.6,485.2 1516.6,486.2 1518.6,487.1 1520.6,488.1 1522.6,491.2 1524.6,494.2 1526.6,497.3 1528.6,500.4 1530.6,503.4 1532.6,506.5 1534.6,509.6 1536.6,510.2 1538.6,510.3 1540.6,510.4 1542.6,510.4 1544.6,510.5 1546.6,510.5 1548.6,510.6 1550.6,510.6 1552.6,510.7 1554.6,510.7 1556.6,510.8 1558.6,510.9 1560.6,510.9 1562.6,511 1564.6,511.4 1566.6,512.3 1568.6,513.3 1570.6,514.2 1572.6,515.1 1574.6,516.1 1576.6,517 1578.6,518 1580.6,518.1 1582.6,518.2 1584.6,518.3 1586.6,518.4 1588.6,518.6 1590.6,518.7 1592.6,518.8 1594.6,518.9 1596.6,519 1598.6,519.1 1600.6,519.2 1602.6,519.3 1604.6,519.4 1606.6,519.6 1608.6,519.7 1610.6,519.8 1612.6,519.9 1614.6,520 1616.6,520.1 1618.6,520.2 1620.6,520.3 1622.6,520.4 1624.6,520.3 1626.6,520.2 1628.6,520.2 1630.6,520.1 1632.6,520 1634.6,520 1636.6,520.3 1638.6,522 1640.6,523.7 1642.6,525.4 1644.6,527 1646.6,528.7 1648.6,530.4 1650.6,531.7 1652.6,532.1 1654.6,532.6 1656.6,533 1658.6,533.5 1660.6,533.9 1662.6,534.4 1664.6,534.8 1666.6,535.2 1668.6,535.7 1670.6,536.1 1672.6,536.6 1674.6,537 1676.6,537.5 1678.6,537.9 1680.6,538.8 1682.6,539.9 1684.6,541 1686.6,542.1 1688.6,543.2 1690.6,544.4 1692.6,545.5 1694.6,546.9 1696.6,550.2 1698.6,553.5 1700.6,556.8 1702.6,560.1 1704.6,563.4 1706.6,566.7 1708.6,569.8 1710.6,571.3 1712.6,572.7 1714.6,574.1 1716.6,575.5 1718.6,576.9 1720.6,578.4 1722.6,579.7 1724.6,580.3 1726.6,580.8 1728.6,581.4 1730.6,581.9 1732.6,582.5 1734.6,583 1736.6,583.6 1737.5,583.8 1737.5,519 1736.6,519 1734.6,518.9 1732.6,518.9 1730.6,518.8 1728.6,518.8 1726.6,518.7 1724.6,518.6 1722.6,518.6 1720.6,518.5 1718.6,518.5 1716.6,518.4 1714.6,518.4 1712.6,518.3 1710.6,518.3 1708.6,518.2 1706.6,515.2 1704.6,511.8 1702.6,508.5 1700.6,505.1 1698.6,501.8 1696.6,498.4 1694.6,495.1 1692.6,494.6 1690.6,494.5 1688.6,494.5 1686.6,494.5 1684.6,494.4 1682.6,494.4 1680.6,494.4 1678.6,494.3 1676.6,494.3 1674.6,494.3 1672.6,494.2 1670.6,494.2 1668.6,494.2 1666.6,494.1 1664.6,494.1 1662.6,493.8 1660.6,493.5 1658.6,493.2 1656.6,493 1654.6,492.7 1652.6,492.4 1650.6,492.1 1648.6,493 1646.6,494.4 1644.6,495.9 1642.6,497.3 1640.6,498.8 1638.6,500.3 1636.6,501.7 1634.6,502.1 1632.6,502.1 1630.6,502.2 1628.6,502.2 1626.6,502.2 1624.6,502.2 1622.6,502.2 1620.6,502.3 1618.6,502.3 1616.6,502.3 1614.6,502.3 1612.6,502.3 1610.6,502.4 1608.6,502.4 1606.6,502.2 1604.6,501.5 1602.6,500.8 1600.6,500.1 1598.6,499.4 1596.6,498.7 1594.6,498 1592.6,496.4 1590.6,491.2 1588.6,486 1586.6,480.8 1584.6,474.2 1582.6,467.4 1580.6,460.6 1578.6,454.2 1576.6,454.2 1574.6,454.2 1572.6,454.2 1570.6,454.2 1568.6,454.2 1566.6,454.2 1564.6,454.2 1562.6,454.2 1560.6,454.2 1558.6,454.2 1556.6,454.2 1554.6,454.2 1552.6,454.3 1550.6,454.3 1548.6,454.3 1546.6,454.3 1544.6,454.3 1542.6,454.3 1540.6,454.3 1538.6,454.3 1536.6,454.3 1534.6,454.3 1532.6,454.3 1530.6,454.3 1528.6,454.3 1526.6,454.3 1524.6,454.3 1522.6,454.3 1520.6,454.3 1518.6,454.3 1516.6,454.3 1514.6,454.3 1512.6,454.3 1510.6,454.3 1508.6,454.3 1506.6,454.3 1504.6,454.3 1502.6,454.4 1500.6,454.4 1498.6,454.4 1496.6,454.4 1494.6,454.4 1492.6,454.4 1490.6,454.4 1488.6,454.4 1486.6,454.4 1484.6,454.4 1482.6,454.4 1480.6,454.4 1478.6,454.4 1476.6,454.4 1474.6,454.4 1472.6,454.4 1470.6,454.4 1468.6,454.4 1466.6,454.4 1464.6,454.4 1462.6,454.4 1460.6,454.4 1458.6,454.4 1456.6,454.4 1454.6,454.4 1452.6,454.4 1450.6,454.5 1448.6,454.5 1446.6,454.5 1444.6,454.5 1442.6,454.5 1440.6,454.5 1438.6,454.5 1436.6,454.5 1434.6,454.5 1432.6,454.5 1430.6,454.5 1428.6,454.5 1426.6,454.5 1424.6,454.5 1422.6,454.5 1420.6,454.5 1418.6,454.5 1416.6,454.5 1414.6,454.5 1412.6,454.5 1410.6,454.5 1408.6,454.5 1406.6,454.5 1404.6,454.5 1402.6,454.5 1400.6,454.6 1398.6,454.6 1396.6,454.6" fill="#c800c8" fill-opacity="0.04"/>
<polyline points="14.6,653.4 46.5,653.4 61.5,648 75.6,647.5 89.7,638.1 99.7,635.9 119.6,635.6 133.4,628.1 146.2,636.4 152.8,646.4 162.8,665.5 177.7,668 191,671.3 206,673 220.1,679.9 249.2,681.3 292.4,681.3 307.3,677.9 321.4,666.3 335.5,663.3 350.5,664.7 364.6,673 378.7,673.8 400,676.3 423.3,677.9 449.8,689.6 466.4,697.9 479.7,701.2 494.7,712.8 508,717 537.9,717 567.8,714.5 581.6,703.7 611,704.2 614.3,676.3 617.6,626.4 625.1,565 629.8,560 639.7,541.8 668,536.8 711.2,536.8 740.2,521 755.2,472.5 769.3,474.8 783.6,474.8 798.4,453.7 826.6,452.9 840.7,443.3 850.7,448.7 870.6,451.2 878.9,469.5 890.6,482 913.8,476.5 957.4,476.4 971.6,490.5 984.9,493 999.8,487.2 1013.9,509.3 1029.7,490.5 1043.8,483.1 1072.9,482.2 1106.1,479.4 1159.3,479.7 1202.5,479.7 1217.4,499.7 1232.4,513 1246.5,513 1260.6,523.3 1274.8,477 1288.9,462.9 1303,459.9 1332.9,459.9 1347,457.5 1362,447.6 1390.5,447.6 1405.1,464.5 1419.3,467 1448.3,470.3 1462.5,471.2 1477.4,479.5 1506,481.1 1520.6,488.1 1535,510.2 1563.8,511 1578.7,518 1621.7,520.4 1636.1,519.9 1649.9,531.5 1679.3,538.1 1694.3,546.4 1708.4,569.7 1722.5,579.7 1737.5,583.8" fill="none" stroke="#cef6ce" stroke-width="1.3"/>
<polyline points="14.6,665.5 162.8,665.5 206,666 250,667.6 400,668 433.2,668 479.7,669.6 494.7,672.1 604.3,672.1 612.6,653 619.3,593.2 625.1,565 629.8,560 639.7,545.9 784.3,545.9 798.4,526 826.6,526 841.6,516 960,516 1246.5,515.1 1260.6,508 1274.8,504.4 1288.9,498.6 1332.4,498.6 1347,481.1 1362,466.2 1376.1,454.6 1578.7,454.2 1586.3,480 1593,497.4 1607.1,502.4 1636.1,502.1 1649.9,492 1664.7,494.1 1694.3,494.6 1708.4,518.2 1737.5,519" fill="none" stroke="#fad2fa" stroke-width="1.3"/>
<path d="M14.5 264.6H2383.5" stroke="#f23645" stroke-width="1.6"/>
<path d="M884.7 637.6H2383.5" stroke="#f23645" stroke-width="1.6"/>
<polyline points="23.3,638.1 49.8,633.1 79.7,630.6 106.3,626.4 119.6,624 132.9,625.1 149.5,630.6 167.8,638.1 182.7,642.2 207.6,646.4 232.6,649.7 265.8,651 290.7,653.9 315.6,657.2 332.2,659.7 357.1,666.3 382.1,674.6 400,679.6 416.6,686.2 433.2,689.6 449.8,689.9 466.4,688.7 483.1,692.1 499.7,697.9 522.9,705.3 549.5,710.3 582.7,713.7 599.3,716.1 614.3,712.8 632.6,697.9 665.8,658 699,614.8 732.2,578.3 748.8,560 753.5,554.2 775.9,526 797.5,494.4 814.2,467.8 829.1,449.6 842.4,434.6 864,416.3 883.9,409.7 900.5,405.5 912.2,411.4 933.8,423 956.6,435.7 981.5,451.5 1006.4,459.8 1029.7,466.4 1056.3,475.6 1072.9,483.1 1089.5,493 1106.1,502.2 1131,514.6 1147.6,521.3 1159.3,523.8 1172.6,519.6 1189.2,513.8 1205.8,509.6 1222.4,506.3 1239,503 1263.9,495.5 1288.8,483.9 1313.8,476.7 1340,471.4 1366.1,468.7 1391,465.7 1407.6,466.5 1432.6,463.7 1457.5,460.4 1482.4,459.2 1507.3,459.2 1532.2,464.5 1565.4,474.5 1582.1,484.5 1596.3,492.5 1621.7,506.6 1646.1,519 1671,530.7 1694.3,538.1 1712.6,548.9 1737.5,561.9" fill="none" stroke="#b2b2b2" stroke-width="1.5" stroke-dasharray="11 8"/>
<polyline points="14.6,771.3 100,762.4 200,752 300,741.5 400,731.1 428.2,730.3 466.4,726.9 537.9,722 610.1,717 665.8,706.2 732.2,696.2 800,684.3 833.2,676.3 869.8,670.5 899.7,667.6 971.6,659.7 1058.3,649.7 1145.2,640.6 1200,636.1 1231.9,631.7 1272.2,626.7 1340,615.9 1400,608.5 1440,604 1480,600.4 1535.1,596.3 1579.7,593.5 1621.7,590.8 1662.7,588.8 1708.4,587.1 1738.3,586.3" fill="none" stroke="#808080" stroke-width="2.8" stroke-linejoin="round"/>
<path d="M1274.3 374.5L1766.5 603.2" stroke="#2962ff" stroke-width="2.9" stroke-linecap="round"/>
<defs><clipPath id="cm"><rect x="14.5" y="40" width="2369.0" height="1104.3"/></clipPath></defs>
<g clip-path="url(#cm)">
<path d="M18.3 603.2V620M18.3 647.6V655" stroke="#089981" stroke-width="1.6"/>
<rect x="13.4" y="620.3" width="9.9" height="27.1" fill="none" stroke="#ff0000" stroke-width="1.5"/>
<path d="M32.7 604.9V606.9M32.7 619.9V622.8" stroke="#089981" stroke-width="1.6"/>
<rect x="27.8" y="607.2" width="9.9" height="12.5" fill="none" stroke="#00ff00" stroke-width="1.5"/>
<path d="M47.2 606.1V608.7" stroke="#089981" stroke-width="1.6"/>
<rect x="42.2" y="598.7" width="9.9" height="7.2" fill="none" stroke="#00ff00" stroke-width="1.5"/>
<path d="M61.6 578.3V587.3M61.6 594.5V616.8" stroke="#089981" stroke-width="1.6"/>
<rect x="56.6" y="587.5" width="10" height="6.8" fill="#00ff00" stroke="#089981" stroke-width="1.4"/>
<path d="M76.1 592.6V594.3M76.1 598V619.5" stroke="#f23645" stroke-width="1.6"/>
<rect x="71.1" y="594.5" width="10" height="3.3" fill="#00ff00" stroke="#f23645" stroke-width="1.4"/>
<path d="M90.5 610.3V612.8" stroke="#f23645" stroke-width="1.6"/>
<rect x="85.5" y="598.6" width="10" height="11.4" fill="#000" stroke="#f23645" stroke-width="1.4"/>
<path d="M105 630.6V640.5M105 647.6V669.1" stroke="#f23645" stroke-width="1.6"/>
<rect x="100" y="640.7" width="9.9" height="6.7" fill="none" stroke="#ff0000" stroke-width="1.5"/>
<path d="M119.4 626.1V636" stroke="#089981" stroke-width="1.6"/>
<rect x="114.5" y="636.2" width="9.9" height="4" fill="none" stroke="#ff0000" stroke-width="1.5"/>
<path d="M133.9 632.3V636.1M133.9 638.3V642.6" stroke="#f23645" stroke-width="1.6"/>
<rect x="128.2" y="635.6" width="11.4" height="3.2" fill="#f23645"/>
<rect x="142.6" y="641.1" width="11.4" height="58.2" fill="#ff0000"/>
<path d="M162.7 752.8V757.3" stroke="#f23645" stroke-width="1.6"/>
<rect x="157" y="698.1" width="11.4" height="55.2" fill="#ff0000"/>
<path d="M177.2 746V754.3M177.2 756.9V759.3" stroke="#f23645" stroke-width="1.6"/>
<rect x="171.5" y="753.8" width="11.4" height="3.7" fill="#ff0000"/>
<path d="M191.6 692.1V694.5" stroke="#089981" stroke-width="1.6"/>
<rect x="186.7" y="694.7" width="9.9" height="50.9" fill="none" stroke="#000" stroke-width="1.5"/>
<path d="M206.1 640.2V669M206.1 694.7V698.9" stroke="#089981" stroke-width="1.6"/>
<rect x="201.1" y="669.3" width="9.9" height="25.1" fill="none" stroke="#000" stroke-width="1.5"/>
<path d="M220.5 653.4V665.4" stroke="#089981" stroke-width="1.6"/>
<rect x="215.6" y="665.6" width="9.9" height="3.9" fill="none" stroke="#00ff00" stroke-width="1.5"/>
<path d="M235 632.8V647.6M235 650.6V661.7" stroke="#089981" stroke-width="1.6"/>
<rect x="230" y="647.9" width="9.9" height="2.5" fill="none" stroke="#00ff00" stroke-width="1.5"/>
<path d="M249.4 643.1V647.1M249.4 656.1V669.1" stroke="#f23645" stroke-width="1.6"/>
<rect x="244.4" y="647.3" width="10" height="8.6" fill="#00ff00" stroke="#f23645" stroke-width="1.4"/>
<path d="M263.9 650.2V651.3M263.9 656.9V658" stroke="#089981" stroke-width="1.6"/>
<rect x="258.9" y="651.5" width="9.9" height="5.2" fill="none" stroke="#00ff00" stroke-width="1.5"/>
<path d="M278.3 673.6V684.3" stroke="#f23645" stroke-width="1.6"/>
<rect x="273.3" y="640.7" width="10" height="32.7" fill="#000" stroke="#f23645" stroke-width="1.4"/>
<path d="M292.7 673.7V690.4" stroke="#089981" stroke-width="1.6"/>
<rect x="287" y="672.9" width="11.4" height="1.6" fill="#ff0000"/>
<path d="M307.2 655.5V658.2" stroke="#089981" stroke-width="1.6"/>
<rect x="302.2" y="658.5" width="9.9" height="16" fill="none" stroke="#ff0000" stroke-width="1.5"/>
<path d="M321.6 629.3V638.3M321.6 653.1V662.5" stroke="#089981" stroke-width="1.6"/>
<rect x="316.6" y="638.5" width="10" height="14.4" fill="#000" stroke="#089981" stroke-width="1.4"/>
<path d="M336.1 640.2V646.3M336.1 652.6V657.2" stroke="#089981" stroke-width="1.6"/>
<rect x="331.1" y="646.5" width="9.9" height="5.8" fill="none" stroke="#00ff00" stroke-width="1.5"/>
<path d="M350.5 642.2V646.3" stroke="#f23645" stroke-width="1.6"/>
<rect x="345.5" y="646.5" width="10" height="4" fill="#00ff00" stroke="#f23645" stroke-width="1.4"/>
<path d="M365 654.7V672.4M365 689.2V734.4" stroke="#f23645" stroke-width="1.6"/>
<rect x="359.3" y="671.9" width="11.4" height="17.8" fill="#ff0000"/>
<path d="M379.4 684.3V689.1" stroke="#f23645" stroke-width="1.6"/>
<rect x="373.7" y="688.6" width="11.4" height="40.6" fill="#ff0000"/>
<path d="M393.9 722.5V728.5M393.9 732.5V735.2" stroke="#f23645" stroke-width="1.6"/>
<rect x="388.2" y="728" width="11.4" height="5" fill="#ff0000"/>
<path d="M408.3 717V723.5M408.3 731.5V751" stroke="#089981" stroke-width="1.6"/>
<rect x="403.4" y="723.8" width="9.9" height="7.5" fill="none" stroke="#ff0000" stroke-width="1.5"/>
<path d="M422.7 713.2V723.5M422.7 738.7V744.7" stroke="#f23645" stroke-width="1.6"/>
<rect x="417" y="723" width="11.4" height="16.2" fill="#ff0000"/>
<path d="M437.2 734.4V739.6" stroke="#f23645" stroke-width="1.6"/>
<rect x="432.2" y="739.8" width="10" height="11.1" fill="#000" stroke="#f23645" stroke-width="1.4"/>
<path d="M451.6 702.9V723M451.6 748.1V763.5" stroke="#089981" stroke-width="1.6"/>
<rect x="446.6" y="723.2" width="10" height="24.7" fill="#000" stroke="#089981" stroke-width="1.4"/>
<path d="M466.1 743.6V745.3M466.1 745.8V765.1" stroke="#089981" stroke-width="1.6"/>
<rect x="460.4" y="744.8" width="11.4" height="1.6" fill="#000"/>
<path d="M480.5 735.6V737.6" stroke="#089981" stroke-width="1.6"/>
<rect x="475.6" y="737.9" width="9.9" height="7.2" fill="none" stroke="#00ff00" stroke-width="1.5"/>
<path d="M495 726.1V749.3M495 752V769.6" stroke="#f23645" stroke-width="1.6"/>
<rect x="489.3" y="748.8" width="11.4" height="3.7" fill="#000"/>
<path d="M509.4 739.9V749.8M509.4 753.6V769" stroke="#f23645" stroke-width="1.6"/>
<rect x="504.4" y="750" width="10" height="3.5" fill="#00ff00" stroke="#f23645" stroke-width="1.4"/>
<path d="M523.9 746V751.3M523.9 754.1V755.7" stroke="#089981" stroke-width="1.6"/>
<rect x="518.9" y="751.5" width="9.9" height="2.4" fill="none" stroke="#00ff00" stroke-width="1.5"/>
<path d="M538.3 700.4V703.1" stroke="#089981" stroke-width="1.6"/>
<rect x="533.4" y="703.3" width="9.9" height="42.9" fill="none" stroke="#00ff00" stroke-width="1.5"/>
<path d="M552.7 693.2V701.8M552.7 702.3V709" stroke="#089981" stroke-width="1.6"/>
<rect x="547" y="701.3" width="11.4" height="1.6" fill="#00ff00"/>
<path d="M567.2 700.4V701.9" stroke="#f23645" stroke-width="1.6"/>
<rect x="561.5" y="701.4" width="11.4" height="3.7" fill="#f23645"/>
<path d="M581.6 650.5V689.5M581.6 703V711.2" stroke="#089981" stroke-width="1.6"/>
<rect x="576.6" y="689.7" width="10" height="13.1" fill="#00ff00" stroke="#089981" stroke-width="1.4"/>
<path d="M596.1 703.5V733.3" stroke="#089981" stroke-width="1.6"/>
<rect x="591.1" y="697.7" width="9.9" height="5.5" fill="none" stroke="#000" stroke-width="1.5"/>
<path d="M610.5 661.3V672" stroke="#089981" stroke-width="1.6"/>
<rect x="605.6" y="672.3" width="9.9" height="24.6" fill="none" stroke="#000" stroke-width="1.5"/>
<path d="M625 374.8V427M625 639.5V661.7" stroke="#089981" stroke-width="1.6"/>
<rect x="620" y="427.2" width="9.9" height="212" fill="none" stroke="#00ff00" stroke-width="1.5"/>
<path d="M639.4 338.3V387.5M639.4 425.9V432.1" stroke="#089981" stroke-width="1.6"/>
<rect x="634.5" y="387.8" width="9.9" height="37.9" fill="none" stroke="#00ff00" stroke-width="1.5"/>
<path d="M653.9 374V387.3M653.9 387.9V402.2" stroke="#f23645" stroke-width="1.6"/>
<rect x="648.2" y="386.8" width="11.4" height="1.6" fill="#00ff00"/>
<path d="M668.3 348.6V350.3M668.3 385.7V454.6" stroke="#089981" stroke-width="1.6"/>
<rect x="663.3" y="350.5" width="10" height="35" fill="#00ff00" stroke="#089981" stroke-width="1.4"/>
<path d="M682.7 360.2V376.7M682.7 383.6V405.9" stroke="#089981" stroke-width="1.6"/>
<rect x="677.8" y="377" width="9.9" height="6.3" fill="none" stroke="#00ff00" stroke-width="1.5"/>
<path d="M697.2 370.2V376M697.2 383.6V399.4" stroke="#f23645" stroke-width="1.6"/>
<rect x="692.2" y="376.2" width="10" height="7.1" fill="#000" stroke="#f23645" stroke-width="1.4"/>
<path d="M711.6 350.7V358.9" stroke="#f23645" stroke-width="1.6"/>
<rect x="705.9" y="358.4" width="11.4" height="87.1" fill="#ff0000"/>
<path d="M726.1 403.1V407.9M726.1 444.7V465.8" stroke="#089981" stroke-width="1.6"/>
<rect x="721.1" y="408.2" width="9.9" height="36.2" fill="none" stroke="#ff0000" stroke-width="1.5"/>
<path d="M740.5 379.8V386.7M740.5 407.6V411" stroke="#089981" stroke-width="1.6"/>
<rect x="735.6" y="386.9" width="9.9" height="20.5" fill="none" stroke="#ff0000" stroke-width="1.5"/>
<path d="M755 347.1V381M755 389.5V405.9" stroke="#f23645" stroke-width="1.6"/>
<rect x="749.3" y="380.5" width="11.4" height="9.5" fill="#ff0000"/>
<path d="M769.4 364V380.5M769.4 388.5V391.4" stroke="#089981" stroke-width="1.6"/>
<rect x="764.5" y="380.8" width="9.9" height="7.5" fill="none" stroke="#000" stroke-width="1.5"/>
<path d="M783.9 358.5V359.8M783.9 379.9V381.8" stroke="#089981" stroke-width="1.6"/>
<rect x="778.9" y="360" width="9.9" height="19.6" fill="none" stroke="#000" stroke-width="1.5"/>
<path d="M798.3 302V312.8M798.3 358.2V359.8" stroke="#089981" stroke-width="1.6"/>
<rect x="793.4" y="313.1" width="9.9" height="44.9" fill="none" stroke="#00ff00" stroke-width="1.5"/>
<path d="M812.7 304.6V313.1M812.7 319.3V329.3" stroke="#f23645" stroke-width="1.6"/>
<rect x="807.7" y="313.3" width="10" height="5.8" fill="#00ff00" stroke="#f23645" stroke-width="1.4"/>
<path d="M827.2 303V305.7" stroke="#089981" stroke-width="1.6"/>
<rect x="822.2" y="305.9" width="9.9" height="13.1" fill="none" stroke="#00ff00" stroke-width="1.5"/>
<path d="M841.6 282V289.6M841.6 366.6V379.8" stroke="#f23645" stroke-width="1.6"/>
<rect x="836.6" y="289.8" width="10" height="76.6" fill="#000" stroke="#f23645" stroke-width="1.4"/>
<path d="M856.1 451.8V498.6" stroke="#f23645" stroke-width="1.6"/>
<rect x="850.4" y="364.6" width="11.4" height="87.7" fill="#ff0000"/>
<path d="M870.5 441.3V451M870.5 451.5V460.9" stroke="#f23645" stroke-width="1.6"/>
<rect x="864.8" y="450.5" width="11.4" height="1.6" fill="#f23645"/>
<path d="M885 408.4V450.8M885 634.4V637.6" stroke="#f23645" stroke-width="1.6"/>
<rect x="879.3" y="450.3" width="11.4" height="184.6" fill="#ff0000"/>
<path d="M899.4 560.6V575.2M899.4 633.7V636.4" stroke="#089981" stroke-width="1.6"/>
<rect x="894.5" y="575.5" width="9.9" height="58" fill="none" stroke="#ff0000" stroke-width="1.5"/>
<path d="M913.9 575.5V576.6M913.9 586.3V606.3" stroke="#f23645" stroke-width="1.6"/>
<rect x="908.2" y="576.1" width="11.4" height="10.7" fill="#ff0000"/>
<path d="M928.3 518.4V528.8" stroke="#089981" stroke-width="1.6"/>
<rect x="923.4" y="529.1" width="9.9" height="49.8" fill="none" stroke="#000" stroke-width="1.5"/>
<path d="M942.7 523.5V531.5" stroke="#f23645" stroke-width="1.6"/>
<rect x="937.7" y="531.7" width="10" height="17.5" fill="#000" stroke="#f23645" stroke-width="1.4"/>
<path d="M957.2 536.5V540.6M957.2 550.4V558.1" stroke="#089981" stroke-width="1.6"/>
<rect x="952.2" y="540.9" width="9.9" height="9.3" fill="none" stroke="#000" stroke-width="1.5"/>
<path d="M971.6 505.5V526.5M971.6 547.1V571.1" stroke="#f23645" stroke-width="1.6"/>
<rect x="966.6" y="526.7" width="10" height="20.2" fill="#00ff00" stroke="#f23645" stroke-width="1.4"/>
<path d="M986.1 544.2V547.4M986.1 554.3V562.5" stroke="#f23645" stroke-width="1.6"/>
<rect x="981.1" y="547.6" width="10" height="6.4" fill="#00ff00" stroke="#f23645" stroke-width="1.4"/>
<path d="M1000.5 544.2V545.7M1000.5 554.3V558.1" stroke="#089981" stroke-width="1.6"/>
<rect x="995.6" y="546" width="9.9" height="8" fill="none" stroke="#000" stroke-width="1.5"/>
<path d="M1015 495.2V496.2" stroke="#089981" stroke-width="1.6"/>
<rect x="1010" y="496.5" width="9.9" height="51.5" fill="none" stroke="#ff0000" stroke-width="1.5"/>
<path d="M1029.4 449.3V471.3M1029.4 495.3V496.3" stroke="#089981" stroke-width="1.6"/>
<rect x="1024.5" y="471.6" width="9.9" height="23.5" fill="none" stroke="#00ff00" stroke-width="1.5"/>
<path d="M1043.9 466.1V470.7M1043.9 471.2V473.4" stroke="#089981" stroke-width="1.6"/>
<rect x="1038.2" y="470.2" width="11.4" height="1.6" fill="#00ff00"/>
<path d="M1058.3 465.3V472.7M1058.3 492V512.1" stroke="#f23645" stroke-width="1.6"/>
<rect x="1053.3" y="472.9" width="10" height="18.9" fill="#00ff00" stroke="#f23645" stroke-width="1.4"/>
<path d="M1072.7 475.6V489.6M1072.7 492.3V500.5" stroke="#089981" stroke-width="1.6"/>
<rect x="1067.8" y="489.9" width="9.9" height="2.2" fill="none" stroke="#00ff00" stroke-width="1.5"/>
<path d="M1087.2 487.2V489.6M1087.2 494.3V498.3" stroke="#f23645" stroke-width="1.6"/>
<rect x="1081.5" y="489.1" width="11.4" height="5.7" fill="#ff0000"/>
<path d="M1101.6 449.8V484.6M1101.6 504.8V513.8" stroke="#089981" stroke-width="1.6"/>
<rect x="1096.7" y="484.9" width="9.9" height="19.6" fill="none" stroke="#ff0000" stroke-width="1.5"/>
<path d="M1116.1 463.6V473.5" stroke="#089981" stroke-width="1.6"/>
<rect x="1111.1" y="473.7" width="9.9" height="9.2" fill="none" stroke="#ff0000" stroke-width="1.5"/>
<path d="M1130.5 471.1V472.8M1130.5 473.4V483.6" stroke="#f23645" stroke-width="1.6"/>
<rect x="1124.8" y="472.3" width="11.4" height="1.6" fill="#f23645"/>
<path d="M1145 464V474.7" stroke="#f23645" stroke-width="1.6"/>
<rect x="1140" y="474.9" width="10" height="84.2" fill="#000" stroke="#f23645" stroke-width="1.4"/>
<path d="M1159.4 512.6V514.5M1159.4 559.2V561.1" stroke="#089981" stroke-width="1.6"/>
<rect x="1154.5" y="514.8" width="9.9" height="44.2" fill="none" stroke="#ff0000" stroke-width="1.5"/>
<path d="M1173.9 510.5V513.7M1173.9 527.2V531.2" stroke="#f23645" stroke-width="1.6"/>
<rect x="1168.2" y="513.2" width="11.4" height="14.5" fill="#ff0000"/>
<path d="M1188.3 449.8V492.6" stroke="#089981" stroke-width="1.6"/>
<rect x="1183.4" y="492.8" width="9.9" height="22.5" fill="none" stroke="#00ff00" stroke-width="1.5"/>
<path d="M1202.7 483.6V491.3M1202.7 507.2V510.5" stroke="#f23645" stroke-width="1.6"/>
<rect x="1197.7" y="491.5" width="10" height="15.6" fill="#000" stroke="#f23645" stroke-width="1.4"/>
<path d="M1217.2 493V502.9" stroke="#089981" stroke-width="1.6"/>
<rect x="1212.2" y="503.1" width="9.9" height="3.5" fill="none" stroke="#00ff00" stroke-width="1.5"/>
<path d="M1231.6 464.3V524.7" stroke="#089981" stroke-width="1.6"/>
<rect x="1226.6" y="458.5" width="10" height="5.6" fill="#00ff00" stroke="#089981" stroke-width="1.4"/>
<path d="M1246.1 455.9V464.4M1246.1 468.8V470.3" stroke="#f23645" stroke-width="1.6"/>
<rect x="1241.1" y="464.6" width="10" height="4" fill="#00ff00" stroke="#f23645" stroke-width="1.4"/>
<path d="M1260.5 462V469.9" stroke="#f23645" stroke-width="1.6"/>
<rect x="1254.8" y="469.4" width="11.4" height="3.2" fill="#f23645"/>
<path d="M1275 374V415.9" stroke="#089981" stroke-width="1.6"/>
<rect x="1270" y="416.2" width="9.9" height="49.9" fill="none" stroke="#00ff00" stroke-width="1.5"/>
<path d="M1289.4 385.9V397.6M1289.4 415.9V417.7" stroke="#089981" stroke-width="1.6"/>
<rect x="1284.5" y="397.9" width="9.9" height="17.8" fill="none" stroke="#00ff00" stroke-width="1.5"/>
<path d="M1303.9 395.2V398.3M1303.9 402V403.6" stroke="#f23645" stroke-width="1.6"/>
<rect x="1298.9" y="398.5" width="10" height="3.3" fill="#00ff00" stroke="#f23645" stroke-width="1.4"/>
<path d="M1318.3 411V429.9M1318.3 438.9V470" stroke="#f23645" stroke-width="1.6"/>
<rect x="1313.3" y="430.1" width="10" height="8.6" fill="#000" stroke="#f23645" stroke-width="1.4"/>
<path d="M1332.7 404.7V410.8M1332.7 438.4V439.9" stroke="#089981" stroke-width="1.6"/>
<rect x="1327.8" y="411" width="9.9" height="27.1" fill="none" stroke="#000" stroke-width="1.5"/>
<path d="M1347.2 408.9V411.8M1347.2 429.4V433" stroke="#f23645" stroke-width="1.6"/>
<rect x="1341.5" y="411.3" width="11.4" height="18.6" fill="#ff0000"/>
<path d="M1361.6 442.1V457.4M1361.6 476.2V483.6" stroke="#f23645" stroke-width="1.6"/>
<rect x="1356.7" y="457.7" width="9.9" height="18.3" fill="none" stroke="#ff0000" stroke-width="1.5"/>
<path d="M1376.1 447.1V456.4M1376.1 459.6V466.2" stroke="#f23645" stroke-width="1.6"/>
<rect x="1370.4" y="455.9" width="11.4" height="4.2" fill="#f23645"/>
<path d="M1390.5 447.1V458.3" stroke="#f23645" stroke-width="1.6"/>
<rect x="1384.8" y="457.8" width="11.4" height="3.7" fill="#f23645"/>
<path d="M1405 480V488.5M1405 522.8V544.3" stroke="#f23645" stroke-width="1.6"/>
<rect x="1400" y="488.8" width="9.9" height="33.8" fill="none" stroke="#ff0000" stroke-width="1.5"/>
<path d="M1419.4 463.7V475.2M1419.4 487.5V497.7" stroke="#089981" stroke-width="1.6"/>
<rect x="1414.5" y="475.5" width="9.9" height="11.8" fill="none" stroke="#ff0000" stroke-width="1.5"/>
<path d="M1433.9 485.9V491.1" stroke="#f23645" stroke-width="1.6"/>
<rect x="1428.9" y="475.4" width="10" height="10.3" fill="#000" stroke="#f23645" stroke-width="1.4"/>
<path d="M1448.3 468.3V489M1448.3 492.9V506.9" stroke="#f23645" stroke-width="1.6"/>
<rect x="1443.3" y="489.2" width="10" height="3.5" fill="#000" stroke="#f23645" stroke-width="1.4"/>
<path d="M1462.8 476.1V478.9M1462.8 493.7V496.1" stroke="#089981" stroke-width="1.6"/>
<rect x="1457.8" y="479.1" width="9.9" height="14.3" fill="none" stroke="#000" stroke-width="1.5"/>
<path d="M1477.2 477V478.9" stroke="#f23645" stroke-width="1.6"/>
<rect x="1472.2" y="479.1" width="10" height="8.3" fill="#00ff00" stroke="#f23645" stroke-width="1.4"/>
<path d="M1491.6 476.1V507.3M1491.6 517V526" stroke="#f23645" stroke-width="1.6"/>
<rect x="1486.7" y="507.6" width="9.9" height="9.2" fill="none" stroke="#ff0000" stroke-width="1.5"/>
<path d="M1506.1 487.5V495.7M1506.1 507.2V534.8" stroke="#089981" stroke-width="1.6"/>
<rect x="1501.1" y="495.9" width="9.9" height="11" fill="none" stroke="#ff0000" stroke-width="1.5"/>
<path d="M1520.5 484.2V487.4M1520.5 496.4V504.9" stroke="#089981" stroke-width="1.6"/>
<rect x="1515.6" y="487.6" width="9.9" height="8.5" fill="none" stroke="#000" stroke-width="1.5"/>
<path d="M1535 569.8V604.9" stroke="#f23645" stroke-width="1.6"/>
<rect x="1529.3" y="532.9" width="11.4" height="37.4" fill="#ff0000"/>
<path d="M1549.4 538.1V542.2M1549.4 570.3V575.8" stroke="#089981" stroke-width="1.6"/>
<rect x="1544.5" y="542.4" width="9.9" height="27.6" fill="none" stroke="#ff0000" stroke-width="1.5"/>
<path d="M1563.9 516V517.3M1563.9 541.9V545.9" stroke="#089981" stroke-width="1.6"/>
<rect x="1558.9" y="517.5" width="9.9" height="24.1" fill="none" stroke="#000" stroke-width="1.5"/>
<path d="M1578.3 559.4V569.1M1578.3 594.7V612.9" stroke="#f23645" stroke-width="1.6"/>
<rect x="1572.6" y="568.6" width="11.4" height="26.6" fill="#ff0000"/>
<path d="M1592.8 556.1V557.5M1592.8 594.7V614.9" stroke="#089981" stroke-width="1.6"/>
<rect x="1587.8" y="557.7" width="9.9" height="36.7" fill="none" stroke="#ff0000" stroke-width="1.5"/>
<path d="M1607.2 540.3V557.5M1607.2 569.5V571.4" stroke="#f23645" stroke-width="1.6"/>
<rect x="1602.2" y="557.7" width="10" height="11.6" fill="#00ff00" stroke="#f23645" stroke-width="1.4"/>
<path d="M1621.6 557.7V572.6M1621.6 576.1V599.6" stroke="#f23645" stroke-width="1.6"/>
<rect x="1616.7" y="572.8" width="9.9" height="3" fill="none" stroke="#000" stroke-width="1.5"/>
<path d="M1636.1 552.6V571.8M1636.1 579.3V584.7" stroke="#f23645" stroke-width="1.6"/>
<rect x="1631.1" y="572" width="10" height="7.1" fill="#000" stroke="#f23645" stroke-width="1.4"/>
<path d="M1650.5 570.9V580.7M1650.5 593.6V597.6" stroke="#f23645" stroke-width="1.6"/>
<rect x="1645.5" y="580.9" width="10" height="12.4" fill="#00ff00" stroke="#f23645" stroke-width="1.4"/>
<path d="M1665 564.4V594.2M1665 601.7V620.4" stroke="#f23645" stroke-width="1.6"/>
<rect x="1660" y="594.4" width="10" height="7.1" fill="#00ff00" stroke="#f23645" stroke-width="1.4"/>
<path d="M1679.4 601.7V607.9" stroke="#089981" stroke-width="1.6"/>
<rect x="1674.5" y="578.2" width="9.9" height="23.3" fill="none" stroke="#ff0000" stroke-width="1.5"/>
<path d="M1693.9 558.1V571.3M1693.9 578.4V580.2" stroke="#089981" stroke-width="1.6"/>
<rect x="1688.9" y="571.5" width="9.9" height="6.7" fill="none" stroke="#00ff00" stroke-width="1.5"/>
<path d="M1708.3 563.1V610.6M1708.3 659.5V668.5" stroke="#f23645" stroke-width="1.6"/>
<rect x="1702.6" y="610.1" width="11.4" height="49.9" fill="#ff0000"/>
<path d="M1722.8 640.3V651M1722.8 659.2V671.4" stroke="#089981" stroke-width="1.6"/>
<rect x="1717.8" y="651.2" width="9.9" height="7.7" fill="none" stroke="#ff0000" stroke-width="1.5"/>
<path d="M1737.2 637.8V642.7M1737.2 650.4V662.7" stroke="#089981" stroke-width="1.6"/>
<rect x="1732.2" y="642.9" width="9.9" height="7.2" fill="none" stroke="#ff0000" stroke-width="1.5"/>
</g>
<circle cx="75.7" cy="575.9" r="5.8" fill="#3cb371"/>
<circle cx="191.5" cy="761.7" r="8.6" fill="#909090"/>
<circle cx="191.5" cy="761.7" r="4.5" fill="#a52a2a"/>
<circle cx="162.5" cy="779.3" r="4.4" fill="#909090"/>
<circle cx="408" cy="758.8" r="6.4" fill="#fff" stroke="#ff0000" stroke-width="4.5"/>
<circle cx="451.2" cy="771.3" r="8.6" fill="#ff0000"/>
<circle cx="465.6" cy="772.6" r="6.4" fill="#fff" stroke="#ff0000" stroke-width="4.5"/>
<circle cx="480.2" cy="756" r="5.8" fill="#000"/>
<circle cx="624.8" cy="352.1" r="4.5" fill="#909090"/>
<circle cx="682.9" cy="342.6" r="8.6" fill="#909090"/>
<path d="M863.9 415H876.7M870.3 408.6V421.4" stroke="#ff0000" stroke-width="4.5"/>
<circle cx="913.8" cy="629.8" r="8.6" fill="#909090"/>
<circle cx="899.3" cy="670.5" r="4.5" fill="#909090"/>
<circle cx="1159.6" cy="572.3" r="8.6" fill="#ff0000"/>
<circle cx="841.8" cy="267" r="8.7" fill="#ffa040"/>
<circle cx="841.8" cy="273.9" r="8.7" fill="#ff0000"/>
<circle cx="841.8" cy="263.1" r="5.9" fill="#0000ff"/>
<circle cx="1289.4" cy="356.5" r="4.5" fill="#909090"/>
<circle cx="1318.4" cy="390.9" r="8.6" fill="#909090"/>
<circle cx="1318.4" cy="390.9" r="4.5" fill="#a52a2a"/>
<circle cx="1592.6" cy="647.3" r="6.4" fill="#fff" stroke="#00ff00" stroke-width="4.5"/>
<circle cx="1607.1" cy="597.6" r="5.8" fill="#007000"/>
<circle cx="1636.1" cy="599.1" r="5.8" fill="#000"/>
<path d="M1684 620.4H1703" stroke="#c0c6e8" stroke-width="3"/>
<circle cx="1679.3" cy="622.4" r="5.8" fill="#000"/>
<circle cx="1679.3" cy="635.6" r="5.8" fill="#0000ff"/>
<path d="M1702 534.3H1714.8M1708.4 527.9V540.7" stroke="#ff0000" stroke-width="4.5"/>
<circle cx="1737" cy="677.7" r="5.8" fill="#000"/>
<circle cx="1737" cy="691.8" r="5.8" fill="#0000ff"/>
<circle cx="1737" cy="689.6" r="5.8" fill="#007000"/>
<circle cx="1722.2" cy="704.3" r="6.4" fill="#fff" stroke="#00ff00" stroke-width="4.5"/>
<text x="841.8" y="207.9" font-size="29" fill="#2962ff" text-anchor="middle" textLength="36.5" lengthAdjust="spacingAndGlyphs">(III)</text>
<text x="1665.3" y="750.6" font-size="29" fill="#2962ff" text-anchor="middle" textLength="41.6" lengthAdjust="spacingAndGlyphs">(IV)</text>
<text x="884.7" y="713.7" font-size="30" fill="#f23645" text-anchor="middle">a</text>
<text x="1275.1" y="350.7" font-size="30" fill="#f23645" text-anchor="middle">b</text>
<text x="1665.3" y="706" font-size="30" fill="#f23645" text-anchor="middle">c</text>
<path d="M1794.5 633.5H1982.5a2.5 2.5 0 0 1 2.5 2.5V707.3a2.5 2.5 0 0 1 -2.5 2.5H1794.5a2.5 2.5 0 0 1 -2.5 -2.5V683L1780 671.3L1792 659.8V636a2.5 2.5 0 0 1 2.5 -2.5Z" fill="#3f51b5"/>
<g font-size="17.3" fill="#eef0fa" text-anchor="middle"><text x="1888.3" y="657.6" textLength="167" lengthAdjust="spacingAndGlyphs">Ein Tief kommt noch</text><text x="1888.3" y="678.4">54.31</text><text x="1888.3" y="698.7">1.03%</text></g>
<path d="M14.5 642.2H2383.5" stroke="#ff0000" stroke-width="1.6" stroke-dasharray="1.6 2.76"/>
<path d="M612 1120.2a2.6 2.6 0 0 1 1.3 -2.3L623.3 1111.7a2.6 2.6 0 0 1 2.7 0L636 1117.9a2.6 2.6 0 0 1 1.3 2.3V1135.2a3 3 0 0 1 -3 3H615a3 3 0 0 1 -3 -3Z" fill="#fff" stroke="#fff" stroke-width="5" stroke-linejoin="round"/>
<path d="M612 1120.2a2.6 2.6 0 0 1 1.3 -2.3L623.3 1111.7a2.6 2.6 0 0 1 2.7 0L636 1117.9a2.6 2.6 0 0 1 1.3 2.3V1135.2a3 3 0 0 1 -3 3H615a3 3 0 0 1 -3 -3Z" fill="#fff" stroke="#089981" stroke-width="1.9" stroke-linejoin="round"/>
<text x="624.9" y="1131.2" font-size="17.5" font-weight="bold" fill="#089981" text-anchor="middle" textLength="8.6" lengthAdjust="spacingAndGlyphs">E</text>
<circle cx="1736.7" cy="1125.5" r="14.4" fill="#fff" stroke="#fff" stroke-width="5"/>
<circle cx="1736.7" cy="1125.5" r="14.4" fill="#fff" stroke="#9c27b0" stroke-width="2.1"/>
<path d="M1734.6 1122.4L1730.6 1125.6H1734.6ZM1734.8 1129.2L1732.4 1132.4" fill="#9c27b0" stroke="#9c27b0" stroke-width="1.6" stroke-linejoin="round"/>
<circle cx="1751.4" cy="1125.4" r="13.9" fill="#fff" stroke="#fff" stroke-width="4.5"/>
<circle cx="1751.4" cy="1125.4" r="13.9" fill="#fff" stroke="#2962ff" stroke-width="2.1"/>
<text x="1751.6" y="1131.6" font-size="18" font-weight="bold" fill="#2962ff" text-anchor="middle" textLength="10.6" lengthAdjust="spacingAndGlyphs">D</text>
<rect x="2107" y="1043" width="261.7" height="86" fill="#757883"/>
<path d="M2207.3 1043V1129M2270.5 1043V1129M2107 1071.5H2368.7M2107 1100.6H2368.7" stroke="#7d808c" stroke-width="1.4" fill="none"/>
<g font-size="15.5" text-anchor="middle">
<text x="2157.2" y="1062.6" fill="#f0f0f0">Blues Typ</text>
<text x="2238.9" y="1062.6" fill="#f0f0f0">Status</text>
<text x="2319.6" y="1062.6" fill="#f0f0f0">Erfolg (Ges)</text>
<text x="2157.2" y="1091.7" fill="#22abc0">Hoch (Long)</text>
<text x="2238.9" y="1091.7" fill="#80838e">Inaktiv</text>
<text x="2319.6" y="1091.7" fill="#f0f0f0">61 / 81</text>
<text x="2157.2" y="1120.8" fill="#3f51b5">Tief (Short)</text>
<text x="2238.9" y="1120.8" fill="#3f51b5">OFFEN</text>
<text x="2319.6" y="1120.8" fill="#f0f0f0">38 / 64</text>
</g>
<g>
<circle cx="18.3" cy="1174.9" r="4.1" fill="#000"/>
<circle cx="32.7" cy="1174.9" r="4.1" fill="#00ff00"/>
<circle cx="47.2" cy="1174.9" r="4.1" fill="#00ff00"/>
<circle cx="61.6" cy="1174.9" r="4.1" fill="#00ff00"/>
<circle cx="76.1" cy="1174.9" r="4.1" fill="#00ff00"/>
<circle cx="90.5" cy="1174.9" r="4.1" fill="#00ff00"/>
<circle cx="105" cy="1174.9" r="4.1" fill="#000"/>
<circle cx="119.4" cy="1174.9" r="4.1" fill="#000"/>
<circle cx="133.9" cy="1174.9" r="4.1" fill="#000"/>
<circle cx="148.3" cy="1174.9" r="4.1" fill="#ff0000"/>
<circle cx="162.7" cy="1174.9" r="5.8" fill="#700000"/>
<circle cx="177.2" cy="1174.9" r="5.8" fill="#700000"/>
<circle cx="191.6" cy="1174.9" r="4.1" fill="#ff0000"/>
<circle cx="206.1" cy="1174.9" r="4.1" fill="#000"/>
<circle cx="220.5" cy="1174.9" r="4.1" fill="#000"/>
<circle cx="235" cy="1174.9" r="4.1" fill="#000"/>
<circle cx="249.4" cy="1174.9" r="4.1" fill="#000"/>
<circle cx="263.9" cy="1174.9" r="4.1" fill="#000"/>
<circle cx="278.3" cy="1174.9" r="4.1" fill="#000"/>
<circle cx="292.7" cy="1174.9" r="4.1" fill="#000"/>
<circle cx="307.2" cy="1174.9" r="4.1" fill="#000"/>
<circle cx="321.6" cy="1174.9" r="4.1" fill="#000"/>
<circle cx="336.1" cy="1174.9" r="4.1" fill="#000"/>
<circle cx="350.5" cy="1174.9" r="4.1" fill="#000"/>
<circle cx="365" cy="1174.9" r="4.1" fill="#ff0000"/>
<circle cx="379.4" cy="1174.9" r="5.8" fill="#700000"/>
<circle cx="393.9" cy="1174.9" r="5.8" fill="#700000"/>
<circle cx="408.3" cy="1174.9" r="5.8" fill="#700000"/>
<circle cx="422.7" cy="1174.9" r="4.1" fill="#ff0000"/>
<circle cx="437.2" cy="1174.9" r="5.8" fill="#700000"/>
<circle cx="451.6" cy="1174.9" r="4.1" fill="#ff0000"/>
<circle cx="466.1" cy="1174.9" r="4.1" fill="#ff0000"/>
<circle cx="480.5" cy="1174.9" r="4.1" fill="#ff0000"/>
<circle cx="495" cy="1174.9" r="4.1" fill="#ff0000"/>
<circle cx="509.4" cy="1174.9" r="4.1" fill="#ff0000"/>
<circle cx="523.9" cy="1174.9" r="4.1" fill="#ff0000"/>
<circle cx="538.3" cy="1174.9" r="4.1" fill="#000"/>
<circle cx="552.7" cy="1174.9" r="4.1" fill="#000"/>
<circle cx="567.2" cy="1174.9" r="4.1" fill="#000"/>
<circle cx="581.6" cy="1174.9" r="4.1" fill="#000"/>
<circle cx="596.1" cy="1174.9" r="4.1" fill="#000"/>
<circle cx="610.5" cy="1174.9" r="4.1" fill="#00ff00"/>
<circle cx="625" cy="1174.9" r="5.8" fill="#007800"/>
<circle cx="639.4" cy="1174.9" r="5.8" fill="#007800"/>
<circle cx="653.9" cy="1174.9" r="5.8" fill="#007800"/>
<circle cx="668.3" cy="1174.9" r="5.8" fill="#007800"/>
<circle cx="682.7" cy="1174.9" r="5.8" fill="#007800"/>
<circle cx="697.2" cy="1174.9" r="5.8" fill="#007800"/>
<circle cx="711.6" cy="1174.9" r="5.8" fill="#007800"/>
<circle cx="726.1" cy="1174.9" r="4.1" fill="#00ff00"/>
<circle cx="740.5" cy="1174.9" r="4.1" fill="#00ff00"/>
<circle cx="755" cy="1174.9" r="4.1" fill="#00ff00"/>
<circle cx="769.4" cy="1174.9" r="4.1" fill="#00ff00"/>
<circle cx="783.9" cy="1174.9" r="4.1" fill="#00ff00"/>
<circle cx="798.3" cy="1174.9" r="4.1" fill="#00ff00"/>
<circle cx="812.7" cy="1174.9" r="4.1" fill="#00ff00"/>
<circle cx="827.2" cy="1174.9" r="4.1" fill="#00ff00"/>
<circle cx="841.6" cy="1174.9" r="4.1" fill="#000"/>
<circle cx="856.1" cy="1174.9" r="4.1" fill="#000"/>
<circle cx="870.5" cy="1174.9" r="4.1" fill="#000"/>
<circle cx="885" cy="1174.9" r="4.1" fill="#ff0000"/>
<circle cx="899.4" cy="1174.9" r="4.1" fill="#ff0000"/>
<circle cx="913.9" cy="1174.9" r="4.1" fill="#ff0000"/>
<circle cx="928.3" cy="1174.9" r="4.1" fill="#ff0000"/>
<circle cx="942.7" cy="1174.9" r="4.1" fill="#ff0000"/>
<circle cx="957.2" cy="1174.9" r="4.1" fill="#ff0000"/>
<circle cx="971.6" cy="1174.9" r="4.1" fill="#ff0000"/>
<circle cx="986.1" cy="1174.9" r="4.1" fill="#ff0000"/>
<circle cx="1000.5" cy="1174.9" r="4.1" fill="#ff0000"/>
<circle cx="1015" cy="1174.9" r="4.1" fill="#000"/>
<circle cx="1029.4" cy="1174.9" r="4.1" fill="#000"/>
<circle cx="1043.9" cy="1174.9" r="4.1" fill="#000"/>
<circle cx="1058.3" cy="1174.9" r="4.1" fill="#000"/>
<circle cx="1072.7" cy="1174.9" r="4.1" fill="#000"/>
<circle cx="1087.2" cy="1174.9" r="4.1" fill="#000"/>
<circle cx="1101.6" cy="1174.9" r="4.1" fill="#000"/>
<circle cx="1116.1" cy="1174.9" r="4.1" fill="#000"/>
<circle cx="1130.5" cy="1174.9" r="4.1" fill="#000"/>
<circle cx="1145" cy="1174.9" r="4.1" fill="#000"/>
<circle cx="1159.4" cy="1174.9" r="4.1" fill="#000"/>
<circle cx="1173.9" cy="1174.9" r="4.1" fill="#000"/>
<circle cx="1188.3" cy="1174.9" r="4.1" fill="#000"/>
<circle cx="1202.7" cy="1174.9" r="4.1" fill="#000"/>
<circle cx="1217.2" cy="1174.9" r="4.1" fill="#000"/>
<circle cx="1231.6" cy="1174.9" r="4.1" fill="#000"/>
<circle cx="1246.1" cy="1174.9" r="4.1" fill="#00ff00"/>
<circle cx="1260.5" cy="1174.9" r="4.1" fill="#00ff00"/>
<circle cx="1275" cy="1174.9" r="4.1" fill="#00ff00"/>
<circle cx="1289.4" cy="1174.9" r="4.1" fill="#00ff00"/>
<circle cx="1303.9" cy="1174.9" r="4.1" fill="#00ff00"/>
<circle cx="1318.3" cy="1174.9" r="4.1" fill="#00ff00"/>
<circle cx="1332.7" cy="1174.9" r="4.1" fill="#00ff00"/>
<circle cx="1347.2" cy="1174.9" r="4.1" fill="#00ff00"/>
<circle cx="1361.6" cy="1174.9" r="4.1" fill="#000"/>
<circle cx="1376.1" cy="1174.9" r="4.1" fill="#000"/>
<circle cx="1390.5" cy="1174.9" r="4.1" fill="#000"/>
<circle cx="1405" cy="1174.9" r="4.1" fill="#ff0000"/>
<circle cx="1419.4" cy="1174.9" r="4.1" fill="#000"/>
<circle cx="1433.9" cy="1174.9" r="4.1" fill="#000"/>
<circle cx="1448.3" cy="1174.9" r="4.1" fill="#000"/>
<circle cx="1462.8" cy="1174.9" r="4.1" fill="#000"/>
<circle cx="1477.2" cy="1174.9" r="4.1" fill="#000"/>
<circle cx="1491.6" cy="1174.9" r="4.1" fill="#ff0000"/>
<circle cx="1506.1" cy="1174.9" r="4.1" fill="#ff0000"/>
<circle cx="1520.5" cy="1174.9" r="4.1" fill="#ff0000"/>
<circle cx="1535" cy="1174.9" r="5.8" fill="#700000"/>
<circle cx="1549.4" cy="1174.9" r="5.8" fill="#700000"/>
<circle cx="1563.9" cy="1174.9" r="4.1" fill="#ff0000"/>
<circle cx="1578.3" cy="1174.9" r="5.8" fill="#700000"/>
<circle cx="1592.8" cy="1174.9" r="5.8" fill="#700000"/>
<circle cx="1607.2" cy="1174.9" r="4.1" fill="#ff0000"/>
<circle cx="1621.6" cy="1174.9" r="4.1" fill="#ff0000"/>
<circle cx="1636.1" cy="1174.9" r="4.1" fill="#ff0000"/>
<circle cx="1650.5" cy="1174.9" r="4.1" fill="#ff0000"/>
<circle cx="1665" cy="1174.9" r="4.1" fill="#ff0000"/>
<circle cx="1679.4" cy="1174.9" r="4.1" fill="#ff0000"/>
<circle cx="1693.9" cy="1174.9" r="4.1" fill="#000"/>
<circle cx="1708.3" cy="1174.9" r="5.8" fill="#700000"/>
<circle cx="1722.8" cy="1174.9" r="5.8" fill="#700000"/>
<circle cx="1737.2" cy="1174.9" r="4.1" fill="#ff0000"/>
<circle cx="18.3" cy="1224.5" r="5.8" fill="#00ff00"/>
<circle cx="32.7" cy="1224.5" r="5.8" fill="#00ff00"/>
<circle cx="47.2" cy="1224.5" r="5.8" fill="#00ff00"/>
<circle cx="61.6" cy="1224.5" r="5.8" fill="#00ff00"/>
<circle cx="76.1" cy="1224.5" r="5.8" fill="#00ff00"/>
<circle cx="90.5" cy="1224.5" r="5.8" fill="#00ff00"/>
<circle cx="105" cy="1224.5" r="5.8" fill="#ff0000"/>
<circle cx="119.4" cy="1224.5" r="5.8" fill="#ffff00"/>
<circle cx="133.9" cy="1224.5" r="5.8" fill="#ff0000"/>
<circle cx="148.3" cy="1224.5" r="5.8" fill="#ff0000"/>
<circle cx="162.7" cy="1224.5" r="5.8" fill="#ff0000"/>
<circle cx="177.2" cy="1224.5" r="5.8" fill="#ff0000"/>
<circle cx="191.6" cy="1224.5" r="5.8" fill="#ff0000"/>
<circle cx="206.1" cy="1224.5" r="5.8" fill="#ff0000"/>
<circle cx="220.5" cy="1224.5" r="5.8" fill="#ffff00"/>
<circle cx="235" cy="1224.5" r="5.8" fill="#ffff00"/>
<circle cx="249.4" cy="1224.5" r="5.8" fill="#ffff00"/>
<circle cx="263.9" cy="1224.5" r="5.8" fill="#ffff00"/>
<circle cx="278.3" cy="1224.5" r="5.8" fill="#ffff00"/>
<circle cx="292.7" cy="1224.5" r="5.8" fill="#ffff00"/>
<circle cx="307.2" cy="1224.5" r="5.8" fill="#ffff00"/>
<circle cx="321.6" cy="1224.5" r="5.8" fill="#ffff00"/>
<circle cx="336.1" cy="1224.5" r="5.8" fill="#00ff00"/>
<circle cx="350.5" cy="1224.5" r="5.8" fill="#00ff00"/>
<circle cx="365" cy="1224.5" r="5.8" fill="#ff0000"/>
<circle cx="379.4" cy="1224.5" r="5.8" fill="#ff0000"/>
<circle cx="393.9" cy="1224.5" r="5.8" fill="#ff0000"/>
<circle cx="408.3" cy="1224.5" r="5.8" fill="#ff0000"/>
<circle cx="422.7" cy="1224.5" r="5.8" fill="#ff0000"/>
<circle cx="437.2" cy="1224.5" r="5.8" fill="#ff0000"/>
<circle cx="451.6" cy="1224.5" r="5.8" fill="#ff0000"/>
<circle cx="466.1" cy="1224.5" r="5.8" fill="#ff0000"/>
<circle cx="480.5" cy="1224.5" r="5.8" fill="#ff0000"/>
<circle cx="495" cy="1224.5" r="5.8" fill="#ff0000"/>
<circle cx="509.4" cy="1224.5" r="5.8" fill="#ff0000"/>
<circle cx="523.9" cy="1224.5" r="5.8" fill="#ff0000"/>
<circle cx="538.3" cy="1224.5" r="5.8" fill="#ffff00"/>
<circle cx="552.7" cy="1224.5" r="5.8" fill="#ffff00"/>
<circle cx="567.2" cy="1224.5" r="5.8" fill="#ffff00"/>
<circle cx="581.6" cy="1224.5" r="5.8" fill="#ffff00"/>
<circle cx="596.1" cy="1224.5" r="5.8" fill="#00ff00"/>
<circle cx="610.5" cy="1224.5" r="5.8" fill="#00ff00"/>
<circle cx="625" cy="1224.5" r="5.8" fill="#00ff00"/>
<circle cx="639.4" cy="1224.5" r="5.8" fill="#00ff00"/>
<circle cx="653.9" cy="1224.5" r="5.8" fill="#00ff00"/>
<circle cx="668.3" cy="1224.5" r="5.8" fill="#00ff00"/>
<circle cx="682.7" cy="1224.5" r="5.8" fill="#00ff00"/>
<circle cx="697.2" cy="1224.5" r="5.8" fill="#00ff00"/>
<circle cx="711.6" cy="1224.5" r="5.8" fill="#00ff00"/>
<circle cx="726.1" cy="1224.5" r="5.8" fill="#00ff00"/>
<circle cx="740.5" cy="1224.5" r="5.8" fill="#00ff00"/>
<circle cx="755" cy="1224.5" r="5.8" fill="#00ff00"/>
<circle cx="769.4" cy="1224.5" r="5.8" fill="#00ff00"/>
<circle cx="783.9" cy="1224.5" r="5.8" fill="#00ff00"/>
<circle cx="798.3" cy="1224.5" r="5.8" fill="#00ff00"/>
<circle cx="812.7" cy="1224.5" r="5.8" fill="#00ff00"/>
<circle cx="827.2" cy="1224.5" r="5.8" fill="#00ff00"/>
<circle cx="841.6" cy="1224.5" r="5.8" fill="#00ff00"/>
<circle cx="856.1" cy="1224.5" r="5.8" fill="#ffff00"/>
<circle cx="870.5" cy="1224.5" r="5.8" fill="#ffff00"/>
<circle cx="885" cy="1224.5" r="5.8" fill="#ff0000"/>
<circle cx="899.4" cy="1224.5" r="5.8" fill="#ff0000"/>
<circle cx="913.9" cy="1224.5" r="5.8" fill="#ff0000"/>
<circle cx="928.3" cy="1224.5" r="5.8" fill="#ff0000"/>
<circle cx="942.7" cy="1224.5" r="5.8" fill="#ff0000"/>
<circle cx="957.2" cy="1224.5" r="5.8" fill="#ff0000"/>
<circle cx="971.6" cy="1224.5" r="5.8" fill="#ff0000"/>
<circle cx="986.1" cy="1224.5" r="5.8" fill="#ffff00"/>
<circle cx="1000.5" cy="1224.5" r="5.8" fill="#ffff00"/>
<circle cx="1015" cy="1224.5" r="5.8" fill="#ffff00"/>
<circle cx="1029.4" cy="1224.5" r="5.8" fill="#ffff00"/>
<circle cx="1043.9" cy="1224.5" r="5.8" fill="#ffff00"/>
<circle cx="1058.3" cy="1224.5" r="5.8" fill="#ffff00"/>
<circle cx="1072.7" cy="1224.5" r="5.8" fill="#ffff00"/>
<circle cx="1087.2" cy="1224.5" r="5.8" fill="#ffff00"/>
<circle cx="1101.6" cy="1224.5" r="5.8" fill="#ffff00"/>
<circle cx="1116.1" cy="1224.5" r="5.8" fill="#00ff00"/>
<circle cx="1130.5" cy="1224.5" r="5.8" fill="#00ff00"/>
<circle cx="1145" cy="1224.5" r="5.8" fill="#ff0000"/>
<circle cx="1159.4" cy="1224.5" r="5.8" fill="#ffff00"/>
<circle cx="1173.9" cy="1224.5" r="5.8" fill="#ffff00"/>
<circle cx="1188.3" cy="1224.5" r="5.8" fill="#ffff00"/>
<circle cx="1202.7" cy="1224.5" r="5.8" fill="#ffff00"/>
<circle cx="1217.2" cy="1224.5" r="5.8" fill="#ffff00"/>
<circle cx="1231.6" cy="1224.5" r="5.8" fill="#00ff00"/>
<circle cx="1246.1" cy="1224.5" r="5.8" fill="#00ff00"/>
<circle cx="1260.5" cy="1224.5" r="5.8" fill="#00ff00"/>
<circle cx="1275" cy="1224.5" r="5.8" fill="#00ff00"/>
<circle cx="1289.4" cy="1224.5" r="5.8" fill="#00ff00"/>
<circle cx="1303.9" cy="1224.5" r="5.8" fill="#00ff00"/>
<circle cx="1318.3" cy="1224.5" r="5.8" fill="#00ff00"/>
<circle cx="1332.7" cy="1224.5" r="5.8" fill="#00ff00"/>
<circle cx="1347.2" cy="1224.5" r="5.8" fill="#00ff00"/>
<circle cx="1361.6" cy="1224.5" r="5.8" fill="#ffff00"/>
<circle cx="1376.1" cy="1224.5" r="5.8" fill="#ffff00"/>
<circle cx="1390.5" cy="1224.5" r="5.8" fill="#ffff00"/>
<circle cx="1405" cy="1224.5" r="5.8" fill="#ff0000"/>
<circle cx="1419.4" cy="1224.5" r="5.8" fill="#ff0000"/>
<circle cx="1433.9" cy="1224.5" r="5.8" fill="#ff0000"/>
<circle cx="1448.3" cy="1224.5" r="5.8" fill="#ff0000"/>
<circle cx="1462.8" cy="1224.5" r="5.8" fill="#ff0000"/>
<circle cx="1477.2" cy="1224.5" r="5.8" fill="#ff0000"/>
<circle cx="1491.6" cy="1224.5" r="5.8" fill="#ff0000"/>
<circle cx="1506.1" cy="1224.5" r="5.8" fill="#ff0000"/>
<circle cx="1520.5" cy="1224.5" r="5.8" fill="#ff0000"/>
<circle cx="1535" cy="1224.5" r="5.8" fill="#ff0000"/>
<circle cx="1549.4" cy="1224.5" r="5.8" fill="#ff0000"/>
<circle cx="1563.9" cy="1224.5" r="5.8" fill="#ff0000"/>
<circle cx="1578.3" cy="1224.5" r="5.8" fill="#ff0000"/>
<circle cx="1592.8" cy="1224.5" r="5.8" fill="#ff0000"/>
<circle cx="1607.2" cy="1224.5" r="5.8" fill="#ff0000"/>
<circle cx="1621.6" cy="1224.5" r="5.8" fill="#ff0000"/>
<circle cx="1636.1" cy="1224.5" r="5.8" fill="#ff0000"/>
<circle cx="1650.5" cy="1224.5" r="5.8" fill="#ff0000"/>
<circle cx="1665" cy="1224.5" r="5.8" fill="#ff0000"/>
<circle cx="1679.4" cy="1224.5" r="5.8" fill="#ff0000"/>
<circle cx="1693.9" cy="1224.5" r="5.8" fill="#ffff00"/>
<circle cx="1708.3" cy="1224.5" r="5.8" fill="#ff0000"/>
<circle cx="1722.8" cy="1224.5" r="5.8" fill="#ff0000"/>
<circle cx="1737.2" cy="1224.5" r="5.8" fill="#ff0000"/>
<circle cx="18.3" cy="1244.1" r="5.8" fill="#ff0000"/>
<circle cx="32.7" cy="1244.1" r="5.8" fill="#00ff00"/>
<circle cx="47.2" cy="1244.1" r="5.8" fill="#00ff00"/>
<circle cx="61.6" cy="1244.1" r="5.8" fill="#00ff00"/>
<circle cx="76.1" cy="1244.1" r="5.8" fill="#00ff00"/>
<circle cx="90.5" cy="1244.1" r="5.8" fill="#000"/>
<circle cx="105" cy="1244.1" r="5.8" fill="#ff0000"/>
<circle cx="119.4" cy="1244.1" r="5.8" fill="#ff0000"/>
<circle cx="133.9" cy="1244.1" r="5.8" fill="#ff0000"/>
<circle cx="148.3" cy="1244.1" r="5.8" fill="#ff0000"/>
<circle cx="162.7" cy="1244.1" r="5.8" fill="#ff0000"/>
<circle cx="177.2" cy="1244.1" r="5.8" fill="#ff0000"/>
<circle cx="191.6" cy="1244.1" r="5.8" fill="#000"/>
<circle cx="206.1" cy="1244.1" r="5.8" fill="#000"/>
<circle cx="220.5" cy="1244.1" r="5.8" fill="#00ff00"/>
<circle cx="235" cy="1244.1" r="5.8" fill="#00ff00"/>
<circle cx="249.4" cy="1244.1" r="5.8" fill="#00ff00"/>
<circle cx="263.9" cy="1244.1" r="5.8" fill="#00ff00"/>
<circle cx="278.3" cy="1244.1" r="5.8" fill="#000"/>
<circle cx="292.7" cy="1244.1" r="5.8" fill="#ff0000"/>
<circle cx="307.2" cy="1244.1" r="5.8" fill="#ff0000"/>
<circle cx="321.6" cy="1244.1" r="5.8" fill="#000"/>
<circle cx="336.1" cy="1244.1" r="5.8" fill="#00ff00"/>
<circle cx="350.5" cy="1244.1" r="5.8" fill="#00ff00"/>
<circle cx="365" cy="1244.1" r="5.8" fill="#ff0000"/>
<circle cx="379.4" cy="1244.1" r="5.8" fill="#ff0000"/>
<circle cx="393.9" cy="1244.1" r="5.8" fill="#ff0000"/>
<circle cx="408.3" cy="1244.1" r="5.8" fill="#ff0000"/>
<circle cx="422.7" cy="1244.1" r="5.8" fill="#ff0000"/>
<circle cx="437.2" cy="1244.1" r="5.8" fill="#000"/>
<circle cx="451.6" cy="1244.1" r="5.8" fill="#000"/>
<circle cx="466.1" cy="1244.1" r="5.8" fill="#000"/>
<circle cx="480.5" cy="1244.1" r="5.8" fill="#00ff00"/>
<circle cx="495" cy="1244.1" r="5.8" fill="#000"/>
<circle cx="509.4" cy="1244.1" r="5.8" fill="#00ff00"/>
<circle cx="523.9" cy="1244.1" r="5.8" fill="#00ff00"/>
<circle cx="538.3" cy="1244.1" r="5.8" fill="#00ff00"/>
<circle cx="552.7" cy="1244.1" r="5.8" fill="#00ff00"/>
<circle cx="567.2" cy="1244.1" r="5.8" fill="#00ff00"/>
<circle cx="581.6" cy="1244.1" r="5.8" fill="#00ff00"/>
<circle cx="596.1" cy="1244.1" r="5.8" fill="#000"/>
<circle cx="610.5" cy="1244.1" r="5.8" fill="#000"/>
<circle cx="625" cy="1244.1" r="5.8" fill="#00ff00"/>
<circle cx="639.4" cy="1244.1" r="5.8" fill="#00ff00"/>
<circle cx="653.9" cy="1244.1" r="5.8" fill="#00ff00"/>
<circle cx="668.3" cy="1244.1" r="5.8" fill="#00ff00"/>
<circle cx="682.7" cy="1244.1" r="5.8" fill="#00ff00"/>
<circle cx="697.2" cy="1244.1" r="5.8" fill="#000"/>
<circle cx="711.6" cy="1244.1" r="5.8" fill="#ff0000"/>
<circle cx="726.1" cy="1244.1" r="5.8" fill="#ff0000"/>
<circle cx="740.5" cy="1244.1" r="5.8" fill="#ff0000"/>
<circle cx="755" cy="1244.1" r="5.8" fill="#ff0000"/>
<circle cx="769.4" cy="1244.1" r="5.8" fill="#000"/>
<circle cx="783.9" cy="1244.1" r="5.8" fill="#000"/>
<circle cx="798.3" cy="1244.1" r="5.8" fill="#00ff00"/>
<circle cx="812.7" cy="1244.1" r="5.8" fill="#00ff00"/>
<circle cx="827.2" cy="1244.1" r="5.8" fill="#00ff00"/>
<circle cx="841.6" cy="1244.1" r="5.8" fill="#000"/>
<circle cx="856.1" cy="1244.1" r="5.8" fill="#ff0000"/>
<circle cx="870.5" cy="1244.1" r="5.8" fill="#ff0000"/>
<circle cx="885" cy="1244.1" r="5.8" fill="#ff0000"/>
<circle cx="899.4" cy="1244.1" r="5.8" fill="#ff0000"/>
<circle cx="913.9" cy="1244.1" r="5.8" fill="#ff0000"/>
<circle cx="928.3" cy="1244.1" r="5.8" fill="#000"/>
<circle cx="942.7" cy="1244.1" r="5.8" fill="#000"/>
<circle cx="957.2" cy="1244.1" r="5.8" fill="#000"/>
<circle cx="971.6" cy="1244.1" r="5.8" fill="#00ff00"/>
<circle cx="986.1" cy="1244.1" r="5.8" fill="#00ff00"/>
<circle cx="1000.5" cy="1244.1" r="5.8" fill="#000"/>
<circle cx="1015" cy="1244.1" r="5.8" fill="#ff0000"/>
<circle cx="1029.4" cy="1244.1" r="5.8" fill="#00ff00"/>
<circle cx="1043.9" cy="1244.1" r="5.8" fill="#00ff00"/>
<circle cx="1058.3" cy="1244.1" r="5.8" fill="#00ff00"/>
<circle cx="1072.7" cy="1244.1" r="5.8" fill="#00ff00"/>
<circle cx="1087.2" cy="1244.1" r="5.8" fill="#ff0000"/>
<circle cx="1101.6" cy="1244.1" r="5.8" fill="#ff0000"/>
<circle cx="1116.1" cy="1244.1" r="5.8" fill="#ff0000"/>
<circle cx="1130.5" cy="1244.1" r="5.8" fill="#00ff00"/>
<circle cx="1145" cy="1244.1" r="5.8" fill="#000"/>
<circle cx="1159.4" cy="1244.1" r="5.8" fill="#ff0000"/>
<circle cx="1173.9" cy="1244.1" r="5.8" fill="#ff0000"/>
<circle cx="1188.3" cy="1244.1" r="5.8" fill="#00ff00"/>
<circle cx="1202.7" cy="1244.1" r="5.8" fill="#000"/>
<circle cx="1217.2" cy="1244.1" r="5.8" fill="#00ff00"/>
<circle cx="1231.6" cy="1244.1" r="5.8" fill="#00ff00"/>
<circle cx="1246.1" cy="1244.1" r="5.8" fill="#00ff00"/>
<circle cx="1260.5" cy="1244.1" r="5.8" fill="#000"/>
<circle cx="1275" cy="1244.1" r="5.8" fill="#00ff00"/>
<circle cx="1289.4" cy="1244.1" r="5.8" fill="#00ff00"/>
<circle cx="1303.9" cy="1244.1" r="5.8" fill="#00ff00"/>
<circle cx="1318.3" cy="1244.1" r="5.8" fill="#000"/>
<circle cx="1332.7" cy="1244.1" r="5.8" fill="#000"/>
<circle cx="1347.2" cy="1244.1" r="5.8" fill="#ff0000"/>
<circle cx="1361.6" cy="1244.1" r="5.8" fill="#ff0000"/>
<circle cx="1376.1" cy="1244.1" r="5.8" fill="#ff0000"/>
<circle cx="1390.5" cy="1244.1" r="5.8" fill="#ff0000"/>
<circle cx="1405" cy="1244.1" r="5.8" fill="#ff0000"/>
<circle cx="1419.4" cy="1244.1" r="5.8" fill="#ff0000"/>
<circle cx="1433.9" cy="1244.1" r="5.8" fill="#000"/>
<circle cx="1448.3" cy="1244.1" r="5.8" fill="#000"/>
<circle cx="1462.8" cy="1244.1" r="5.8" fill="#000"/>
<circle cx="1477.2" cy="1244.1" r="5.8" fill="#00ff00"/>
<circle cx="1491.6" cy="1244.1" r="5.8" fill="#ff0000"/>
<circle cx="1506.1" cy="1244.1" r="5.8" fill="#ff0000"/>
<circle cx="1520.5" cy="1244.1" r="5.8" fill="#000"/>
<circle cx="1535" cy="1244.1" r="5.8" fill="#ff0000"/>
<circle cx="1549.4" cy="1244.1" r="5.8" fill="#ff0000"/>
<circle cx="1563.9" cy="1244.1" r="5.8" fill="#000"/>
<circle cx="1578.3" cy="1244.1" r="5.8" fill="#ff0000"/>
<circle cx="1592.8" cy="1244.1" r="5.8" fill="#ff0000"/>
<circle cx="1607.2" cy="1244.1" r="5.8" fill="#00ff00"/>
<circle cx="1621.6" cy="1244.1" r="5.8" fill="#000"/>
<circle cx="1636.1" cy="1244.1" r="5.8" fill="#000"/>
<circle cx="1650.5" cy="1244.1" r="5.8" fill="#00ff00"/>
<circle cx="1665" cy="1244.1" r="5.8" fill="#00ff00"/>
<circle cx="1679.4" cy="1244.1" r="5.8" fill="#ff0000"/>
<circle cx="1693.9" cy="1244.1" r="5.8" fill="#00ff00"/>
<circle cx="1708.3" cy="1244.1" r="5.8" fill="#ff0000"/>
<circle cx="1722.8" cy="1244.1" r="5.8" fill="#ff0000"/>
<circle cx="1737.2" cy="1244.1" r="5.8" fill="#ff0000"/>
<circle cx="18.3" cy="1264.3" r="5.8" fill="#00ff00"/>
<circle cx="32.7" cy="1264.3" r="5.8" fill="#00ff00"/>
<circle cx="47.2" cy="1264.3" r="5.8" fill="#00ff00"/>
<circle cx="61.6" cy="1264.3" r="5.8" fill="#00ff00"/>
<circle cx="76.1" cy="1264.3" r="5.8" fill="#00ff00"/>
<circle cx="90.5" cy="1264.3" r="5.8" fill="#00ff00"/>
<circle cx="105" cy="1264.3" r="5.8" fill="#00ff00"/>
<circle cx="119.4" cy="1264.3" r="5.8" fill="#00ff00"/>
<circle cx="133.9" cy="1264.3" r="5.8" fill="#00ff00"/>
<circle cx="148.3" cy="1264.3" r="5.8" fill="#00ff00"/>
<circle cx="162.7" cy="1264.3" r="5.8" fill="#ff0000"/>
<circle cx="177.2" cy="1264.3" r="5.8" fill="#ff0000"/>
<circle cx="191.6" cy="1264.3" r="5.8" fill="#ff0000"/>
<circle cx="206.1" cy="1264.3" r="5.8" fill="#ff0000"/>
<circle cx="220.5" cy="1264.3" r="5.8" fill="#ff0000"/>
<circle cx="235" cy="1264.3" r="5.8" fill="#ff0000"/>
<circle cx="249.4" cy="1264.3" r="5.8" fill="#ff0000"/>
<circle cx="263.9" cy="1264.3" r="5.8" fill="#ff0000"/>
<circle cx="278.3" cy="1264.3" r="5.8" fill="#ff0000"/>
<circle cx="292.7" cy="1264.3" r="5.8" fill="#ff0000"/>
<circle cx="307.2" cy="1264.3" r="5.8" fill="#ff0000"/>
<circle cx="321.6" cy="1264.3" r="5.8" fill="#00ff00"/>
<circle cx="336.1" cy="1264.3" r="5.8" fill="#00ff00"/>
<circle cx="350.5" cy="1264.3" r="5.8" fill="#00ff00"/>
<circle cx="365" cy="1264.3" r="5.8" fill="#ff0000"/>
<circle cx="379.4" cy="1264.3" r="5.8" fill="#ff0000"/>
<circle cx="393.9" cy="1264.3" r="5.8" fill="#ff0000"/>
<circle cx="408.3" cy="1264.3" r="5.8" fill="#ff0000"/>
<circle cx="422.7" cy="1264.3" r="5.8" fill="#ff0000"/>
<circle cx="437.2" cy="1264.3" r="5.8" fill="#ff0000"/>
<circle cx="451.6" cy="1264.3" r="5.8" fill="#ff0000"/>
<circle cx="466.1" cy="1264.3" r="5.8" fill="#ff0000"/>
<circle cx="480.5" cy="1264.3" r="5.8" fill="#ff0000"/>
<circle cx="495" cy="1264.3" r="5.8" fill="#ff0000"/>
<circle cx="509.4" cy="1264.3" r="5.8" fill="#ff0000"/>
<circle cx="523.9" cy="1264.3" r="5.8" fill="#ff0000"/>
<circle cx="538.3" cy="1264.3" r="5.8" fill="#ff0000"/>
<circle cx="552.7" cy="1264.3" r="5.8" fill="#ff0000"/>
<circle cx="567.2" cy="1264.3" r="5.8" fill="#ff0000"/>
<circle cx="581.6" cy="1264.3" r="5.8" fill="#ff0000"/>
<circle cx="596.1" cy="1264.3" r="5.8" fill="#ff0000"/>
<circle cx="610.5" cy="1264.3" r="5.8" fill="#ff0000"/>
<circle cx="625" cy="1264.3" r="5.8" fill="#00ff00"/>
<circle cx="639.4" cy="1264.3" r="5.8" fill="#00ff00"/>
<circle cx="653.9" cy="1264.3" r="5.8" fill="#00ff00"/>
<circle cx="668.3" cy="1264.3" r="5.8" fill="#00ff00"/>
<circle cx="682.7" cy="1264.3" r="5.8" fill="#00ff00"/>
<circle cx="697.2" cy="1264.3" r="5.8" fill="#00ff00"/>
<circle cx="711.6" cy="1264.3" r="5.8" fill="#00ff00"/>
<circle cx="726.1" cy="1264.3" r="5.8" fill="#00ff00"/>
<circle cx="740.5" cy="1264.3" r="5.8" fill="#00ff00"/>
<circle cx="755" cy="1264.3" r="5.8" fill="#00ff00"/>
<circle cx="769.4" cy="1264.3" r="5.8" fill="#00ff00"/>
<circle cx="783.9" cy="1264.3" r="5.8" fill="#00ff00"/>
<circle cx="798.3" cy="1264.3" r="5.8" fill="#00ff00"/>
<circle cx="812.7" cy="1264.3" r="5.8" fill="#00ff00"/>
<circle cx="827.2" cy="1264.3" r="5.8" fill="#00ff00"/>
<circle cx="841.6" cy="1264.3" r="5.8" fill="#00ff00"/>
<circle cx="856.1" cy="1264.3" r="5.8" fill="#00ff00"/>
<circle cx="870.5" cy="1264.3" r="5.8" fill="#00ff00"/>
<circle cx="885" cy="1264.3" r="5.8" fill="#00ff00"/>
<circle cx="899.4" cy="1264.3" r="5.8" fill="#00ff00"/>
<circle cx="913.9" cy="1264.3" r="5.8" fill="#00ff00"/>
<circle cx="928.3" cy="1264.3" r="5.8" fill="#00ff00"/>
<circle cx="942.7" cy="1264.3" r="5.8" fill="#00ff00"/>
<circle cx="957.2" cy="1264.3" r="5.8" fill="#00ff00"/>
<circle cx="971.6" cy="1264.3" r="5.8" fill="#00ff00"/>
<circle cx="986.1" cy="1264.3" r="5.8" fill="#00ff00"/>
<circle cx="1000.5" cy="1264.3" r="5.8" fill="#00ff00"/>
<circle cx="1015" cy="1264.3" r="5.8" fill="#00ff00"/>
<circle cx="1029.4" cy="1264.3" r="5.8" fill="#00ff00"/>
<circle cx="1043.9" cy="1264.3" r="5.8" fill="#00ff00"/>
<circle cx="1058.3" cy="1264.3" r="5.8" fill="#00ff00"/>
<circle cx="1072.7" cy="1264.3" r="5.8" fill="#00ff00"/>
<circle cx="1087.2" cy="1264.3" r="5.8" fill="#00ff00"/>
<circle cx="1101.6" cy="1264.3" r="5.8" fill="#00ff00"/>
<circle cx="1116.1" cy="1264.3" r="5.8" fill="#00ff00"/>
<circle cx="1130.5" cy="1264.3" r="5.8" fill="#00ff00"/>
<circle cx="1145" cy="1264.3" r="5.8" fill="#00ff00"/>
<circle cx="1159.4" cy="1264.3" r="5.8" fill="#00ff00"/>
<circle cx="1173.9" cy="1264.3" r="5.8" fill="#00ff00"/>
<circle cx="1188.3" cy="1264.3" r="5.8" fill="#00ff00"/>
<circle cx="1202.7" cy="1264.3" r="5.8" fill="#00ff00"/>
<circle cx="1217.2" cy="1264.3" r="5.8" fill="#00ff00"/>
<circle cx="1231.6" cy="1264.3" r="5.8" fill="#00ff00"/>
<circle cx="1246.1" cy="1264.3" r="5.8" fill="#00ff00"/>
<circle cx="1260.5" cy="1264.3" r="5.8" fill="#ff0000"/>
<circle cx="1275" cy="1264.3" r="5.8" fill="#00ff00"/>
<circle cx="1289.4" cy="1264.3" r="5.8" fill="#00ff00"/>
<circle cx="1303.9" cy="1264.3" r="5.8" fill="#00ff00"/>
<circle cx="1318.3" cy="1264.3" r="5.8" fill="#00ff00"/>
<circle cx="1332.7" cy="1264.3" r="5.8" fill="#00ff00"/>
<circle cx="1347.2" cy="1264.3" r="5.8" fill="#00ff00"/>
<circle cx="1361.6" cy="1264.3" r="5.8" fill="#00ff00"/>
<circle cx="1376.1" cy="1264.3" r="5.8" fill="#00ff00"/>
<circle cx="1390.5" cy="1264.3" r="5.8" fill="#00ff00"/>
<circle cx="1405" cy="1264.3" r="5.8" fill="#ff0000"/>
<circle cx="1419.4" cy="1264.3" r="5.8" fill="#ff0000"/>
<circle cx="1433.9" cy="1264.3" r="5.8" fill="#ff0000"/>
<circle cx="1448.3" cy="1264.3" r="5.8" fill="#ff0000"/>
<circle cx="1462.8" cy="1264.3" r="5.8" fill="#ff0000"/>
<circle cx="1477.2" cy="1264.3" r="5.8" fill="#ff0000"/>
<circle cx="1491.6" cy="1264.3" r="5.8" fill="#ff0000"/>
<circle cx="1506.1" cy="1264.3" r="5.8" fill="#ff0000"/>
<circle cx="1520.5" cy="1264.3" r="5.8" fill="#ff0000"/>
<circle cx="1535" cy="1264.3" r="5.8" fill="#ff0000"/>
<circle cx="1549.4" cy="1264.3" r="5.8" fill="#ff0000"/>
<circle cx="1563.9" cy="1264.3" r="5.8" fill="#ff0000"/>
<circle cx="1578.3" cy="1264.3" r="5.8" fill="#ff0000"/>
<circle cx="1592.8" cy="1264.3" r="5.8" fill="#ff0000"/>
<circle cx="1607.2" cy="1264.3" r="5.8" fill="#ff0000"/>
<circle cx="1621.6" cy="1264.3" r="5.8" fill="#ff0000"/>
<circle cx="1636.1" cy="1264.3" r="5.8" fill="#ff0000"/>
<circle cx="1650.5" cy="1264.3" r="5.8" fill="#ff0000"/>
<circle cx="1665" cy="1264.3" r="5.8" fill="#ff0000"/>
<circle cx="1679.4" cy="1264.3" r="5.8" fill="#ff0000"/>
<circle cx="1693.9" cy="1264.3" r="5.8" fill="#ff0000"/>
<circle cx="1708.3" cy="1264.3" r="5.8" fill="#ff0000"/>
<circle cx="1722.8" cy="1264.3" r="5.8" fill="#ff0000"/>
<circle cx="1737.2" cy="1264.3" r="5.8" fill="#ff0000"/>
<circle cx="18.3" cy="1284.3" r="5.8" fill="#ff0000"/>
<circle cx="32.7" cy="1284.3" r="5.8" fill="#ff0000"/>
<circle cx="47.2" cy="1284.3" r="5.8" fill="#00ff00"/>
<circle cx="61.6" cy="1284.3" r="5.8" fill="#00ff00"/>
<circle cx="76.1" cy="1284.3" r="5.8" fill="#00ff00"/>
<circle cx="90.5" cy="1284.3" r="5.8" fill="#00ff00"/>
<circle cx="105" cy="1284.3" r="5.8" fill="#00ff00"/>
<circle cx="119.4" cy="1284.3" r="5.8" fill="#00ff00"/>
<circle cx="133.9" cy="1284.3" r="5.8" fill="#000"/>
<circle cx="148.3" cy="1284.3" r="5.8" fill="#ff0000"/>
<circle cx="162.7" cy="1284.3" r="5.8" fill="#ff0000"/>
<circle cx="177.2" cy="1284.3" r="5.8" fill="#ff0000"/>
<circle cx="191.6" cy="1284.3" r="5.8" fill="#ff0000"/>
<circle cx="206.1" cy="1284.3" r="5.8" fill="#ff0000"/>
<circle cx="220.5" cy="1284.3" r="5.8" fill="#ff0000"/>
<circle cx="235" cy="1284.3" r="5.8" fill="#000"/>
<circle cx="249.4" cy="1284.3" r="5.8" fill="#000"/>
<circle cx="263.9" cy="1284.3" r="5.8" fill="#000"/>
<circle cx="278.3" cy="1284.3" r="5.8" fill="#000"/>
<circle cx="292.7" cy="1284.3" r="5.8" fill="#000"/>
<circle cx="307.2" cy="1284.3" r="5.8" fill="#000"/>
<circle cx="321.6" cy="1284.3" r="5.8" fill="#000"/>
<circle cx="336.1" cy="1284.3" r="5.8" fill="#000"/>
<circle cx="350.5" cy="1284.3" r="5.8" fill="#000"/>
<circle cx="365" cy="1284.3" r="5.8" fill="#000"/>
<circle cx="379.4" cy="1284.3" r="5.8" fill="#ff0000"/>
<circle cx="393.9" cy="1284.3" r="5.8" fill="#ff0000"/>
<circle cx="408.3" cy="1284.3" r="5.8" fill="#ff0000"/>
<circle cx="422.7" cy="1284.3" r="5.8" fill="#ff0000"/>
<circle cx="437.2" cy="1284.3" r="5.8" fill="#ff0000"/>
<circle cx="451.6" cy="1284.3" r="5.8" fill="#ff0000"/>
<circle cx="466.1" cy="1284.3" r="5.8" fill="#ff0000"/>
<circle cx="480.5" cy="1284.3" r="5.8" fill="#ff0000"/>
<circle cx="495" cy="1284.3" r="5.8" fill="#ff0000"/>
<circle cx="509.4" cy="1284.3" r="5.8" fill="#ff0000"/>
<circle cx="523.9" cy="1284.3" r="5.8" fill="#ff0000"/>
<circle cx="538.3" cy="1284.3" r="5.8" fill="#000"/>
<circle cx="552.7" cy="1284.3" r="5.8" fill="#000"/>
<circle cx="567.2" cy="1284.3" r="5.8" fill="#000"/>
<circle cx="581.6" cy="1284.3" r="5.8" fill="#000"/>
<circle cx="596.1" cy="1284.3" r="5.8" fill="#000"/>
<circle cx="610.5" cy="1284.3" r="5.8" fill="#00ff00"/>
<circle cx="625" cy="1284.3" r="5.8" fill="#00ff00"/>
<circle cx="639.4" cy="1284.3" r="5.8" fill="#00ff00"/>
<circle cx="653.9" cy="1284.3" r="5.8" fill="#00ff00"/>
<circle cx="668.3" cy="1284.3" r="5.8" fill="#00ff00"/>
<circle cx="682.7" cy="1284.3" r="5.8" fill="#00ff00"/>
<circle cx="697.2" cy="1284.3" r="5.8" fill="#00ff00"/>
<circle cx="711.6" cy="1284.3" r="5.8" fill="#00ff00"/>
<circle cx="726.1" cy="1284.3" r="5.8" fill="#00ff00"/>
<circle cx="740.5" cy="1284.3" r="5.8" fill="#00ff00"/>
<circle cx="755" cy="1284.3" r="5.8" fill="#00ff00"/>
<circle cx="769.4" cy="1284.3" r="5.8" fill="#000"/>
<circle cx="783.9" cy="1284.3" r="5.8" fill="#000"/>
<circle cx="798.3" cy="1284.3" r="5.8" fill="#00ff00"/>
<circle cx="812.7" cy="1284.3" r="5.8" fill="#00ff00"/>
<circle cx="827.2" cy="1284.3" r="5.8" fill="#00ff00"/>
<circle cx="841.6" cy="1284.3" r="5.8" fill="#00ff00"/>
<circle cx="856.1" cy="1284.3" r="5.8" fill="#000"/>
<circle cx="870.5" cy="1284.3" r="5.8" fill="#000"/>
<circle cx="885" cy="1284.3" r="5.8" fill="#000"/>
<circle cx="899.4" cy="1284.3" r="5.8" fill="#000"/>
<circle cx="913.9" cy="1284.3" r="5.8" fill="#000"/>
<circle cx="928.3" cy="1284.3" r="5.8" fill="#ff0000"/>
<circle cx="942.7" cy="1284.3" r="5.8" fill="#ff0000"/>
<circle cx="957.2" cy="1284.3" r="5.8" fill="#ff0000"/>
<circle cx="971.6" cy="1284.3" r="5.8" fill="#ff0000"/>
<circle cx="986.1" cy="1284.3" r="5.8" fill="#ff0000"/>
<circle cx="1000.5" cy="1284.3" r="5.8" fill="#ff0000"/>
<circle cx="1015" cy="1284.3" r="5.8" fill="#ff0000"/>
<circle cx="1029.4" cy="1284.3" r="5.8" fill="#ff0000"/>
<circle cx="1043.9" cy="1284.3" r="5.8" fill="#000"/>
<circle cx="1058.3" cy="1284.3" r="5.8" fill="#000"/>
<circle cx="1072.7" cy="1284.3" r="5.8" fill="#000"/>
<circle cx="1087.2" cy="1284.3" r="5.8" fill="#000"/>
<circle cx="1101.6" cy="1284.3" r="5.8" fill="#ff0000"/>
<circle cx="1116.1" cy="1284.3" r="5.8" fill="#ff0000"/>
<circle cx="1130.5" cy="1284.3" r="5.8" fill="#ff0000"/>
<circle cx="1145" cy="1284.3" r="5.8" fill="#ff0000"/>
<circle cx="1159.4" cy="1284.3" r="5.8" fill="#ff0000"/>
<circle cx="1173.9" cy="1284.3" r="5.8" fill="#ff0000"/>
<circle cx="1188.3" cy="1284.3" r="5.8" fill="#ff0000"/>
<circle cx="1202.7" cy="1284.3" r="5.8" fill="#ff0000"/>
<circle cx="1217.2" cy="1284.3" r="5.8" fill="#000"/>
<circle cx="1231.6" cy="1284.3" r="5.8" fill="#000"/>
<circle cx="1246.1" cy="1284.3" r="5.8" fill="#000"/>
<circle cx="1260.5" cy="1284.3" r="5.8" fill="#000"/>
<circle cx="1275" cy="1284.3" r="5.8" fill="#00ff00"/>
<circle cx="1289.4" cy="1284.3" r="5.8" fill="#00ff00"/>
<circle cx="1303.9" cy="1284.3" r="5.8" fill="#00ff00"/>
<circle cx="1318.3" cy="1284.3" r="5.8" fill="#00ff00"/>
<circle cx="1332.7" cy="1284.3" r="5.8" fill="#00ff00"/>
<circle cx="1347.2" cy="1284.3" r="5.8" fill="#00ff00"/>
<circle cx="1361.6" cy="1284.3" r="5.8" fill="#00ff00"/>
<circle cx="1376.1" cy="1284.3" r="5.8" fill="#000"/>
<circle cx="1390.5" cy="1284.3" r="5.8" fill="#000"/>
<circle cx="1405" cy="1284.3" r="5.8" fill="#000"/>
<circle cx="1419.4" cy="1284.3" r="5.8" fill="#000"/>
<circle cx="1433.9" cy="1284.3" r="5.8" fill="#000"/>
<circle cx="1448.3" cy="1284.3" r="5.8" fill="#ff0000"/>
<circle cx="1462.8" cy="1284.3" r="5.8" fill="#ff0000"/>
<circle cx="1477.2" cy="1284.3" r="5.8" fill="#ff0000"/>
<circle cx="1491.6" cy="1284.3" r="5.8" fill="#ff0000"/>
<circle cx="1506.1" cy="1284.3" r="5.8" fill="#ff0000"/>
<circle cx="1520.5" cy="1284.3" r="5.8" fill="#ff0000"/>
<circle cx="1535" cy="1284.3" r="5.8" fill="#ff0000"/>
<circle cx="1549.4" cy="1284.3" r="5.8" fill="#ff0000"/>
<circle cx="1563.9" cy="1284.3" r="5.8" fill="#ff0000"/>
<circle cx="1578.3" cy="1284.3" r="5.8" fill="#ff0000"/>
<circle cx="1592.8" cy="1284.3" r="5.8" fill="#ff0000"/>
<circle cx="1607.2" cy="1284.3" r="5.8" fill="#ff0000"/>
<circle cx="1621.6" cy="1284.3" r="5.8" fill="#ff0000"/>
<circle cx="1636.1" cy="1284.3" r="5.8" fill="#ff0000"/>
<circle cx="1650.5" cy="1284.3" r="5.8" fill="#ff0000"/>
<circle cx="1665" cy="1284.3" r="5.8" fill="#ff0000"/>
<circle cx="1679.4" cy="1284.3" r="5.8" fill="#ff0000"/>
<circle cx="1693.9" cy="1284.3" r="5.8" fill="#ff0000"/>
<circle cx="1708.3" cy="1284.3" r="5.8" fill="#ff0000"/>
<circle cx="1722.8" cy="1284.3" r="5.8" fill="#ff0000"/>
<circle cx="1737.2" cy="1284.3" r="5.8" fill="#ff0000"/>
<circle cx="18.3" cy="1303.9" r="5.8" fill="#000"/>
<circle cx="32.7" cy="1303.9" r="5.8" fill="#000"/>
<circle cx="47.2" cy="1303.9" r="5.8" fill="#00ff00"/>
<circle cx="61.6" cy="1303.9" r="5.8" fill="#00ff00"/>
<circle cx="76.1" cy="1303.9" r="5.8" fill="#00ff00"/>
<circle cx="90.5" cy="1303.9" r="5.8" fill="#00ff00"/>
<circle cx="105" cy="1303.9" r="5.8" fill="#00ff00"/>
<circle cx="119.4" cy="1303.9" r="5.8" fill="#000"/>
<circle cx="133.9" cy="1303.9" r="5.8" fill="#000"/>
<circle cx="148.3" cy="1303.9" r="5.8" fill="#ff0000"/>
<circle cx="162.7" cy="1303.9" r="5.8" fill="#ff0000"/>
<circle cx="177.2" cy="1303.9" r="5.8" fill="#ff0000"/>
<circle cx="191.6" cy="1303.9" r="5.8" fill="#ff0000"/>
<circle cx="206.1" cy="1303.9" r="5.8" fill="#ff0000"/>
<circle cx="220.5" cy="1303.9" r="5.8" fill="#ff0000"/>
<circle cx="235" cy="1303.9" r="5.8" fill="#000"/>
<circle cx="249.4" cy="1303.9" r="5.8" fill="#000"/>
<circle cx="263.9" cy="1303.9" r="5.8" fill="#000"/>
<circle cx="278.3" cy="1303.9" r="5.8" fill="#000"/>
<circle cx="292.7" cy="1303.9" r="5.8" fill="#00ff00"/>
<circle cx="307.2" cy="1303.9" r="5.8" fill="#00ff00"/>
<circle cx="321.6" cy="1303.9" r="5.8" fill="#00ff00"/>
<circle cx="336.1" cy="1303.9" r="5.8" fill="#00ff00"/>
<circle cx="350.5" cy="1303.9" r="5.8" fill="#00ff00"/>
<circle cx="365" cy="1303.9" r="5.8" fill="#00ff00"/>
<circle cx="379.4" cy="1303.9" r="5.8" fill="#00ff00"/>
<circle cx="393.9" cy="1303.9" r="5.8" fill="#ff0000"/>
<circle cx="408.3" cy="1303.9" r="5.8" fill="#ff0000"/>
<circle cx="422.7" cy="1303.9" r="5.8" fill="#ff0000"/>
<circle cx="437.2" cy="1303.9" r="5.8" fill="#ff0000"/>
<circle cx="451.6" cy="1303.9" r="5.8" fill="#ff0000"/>
<circle cx="466.1" cy="1303.9" r="5.8" fill="#ff0000"/>
<circle cx="480.5" cy="1303.9" r="5.8" fill="#ff0000"/>
<circle cx="495" cy="1303.9" r="5.8" fill="#ff0000"/>
<circle cx="509.4" cy="1303.9" r="5.8" fill="#000"/>
<circle cx="523.9" cy="1303.9" r="5.8" fill="#000"/>
<circle cx="538.3" cy="1303.9" r="5.8" fill="#000"/>
<circle cx="552.7" cy="1303.9" r="5.8" fill="#000"/>
<circle cx="567.2" cy="1303.9" r="5.8" fill="#000"/>
<circle cx="581.6" cy="1303.9" r="5.8" fill="#00ff00"/>
<circle cx="596.1" cy="1303.9" r="5.8" fill="#00ff00"/>
<circle cx="610.5" cy="1303.9" r="5.8" fill="#00ff00"/>
<circle cx="625" cy="1303.9" r="5.8" fill="#00ff00"/>
<circle cx="639.4" cy="1303.9" r="5.8" fill="#00ff00"/>
<circle cx="653.9" cy="1303.9" r="5.8" fill="#00ff00"/>
<circle cx="668.3" cy="1303.9" r="5.8" fill="#00ff00"/>
<circle cx="682.7" cy="1303.9" r="5.8" fill="#00ff00"/>
<circle cx="697.2" cy="1303.9" r="5.8" fill="#00ff00"/>
<circle cx="711.6" cy="1303.9" r="5.8" fill="#00ff00"/>
<circle cx="726.1" cy="1303.9" r="5.8" fill="#000"/>
<circle cx="740.5" cy="1303.9" r="5.8" fill="#000"/>
<circle cx="755" cy="1303.9" r="5.8" fill="#000"/>
<circle cx="769.4" cy="1303.9" r="5.8" fill="#000"/>
<circle cx="783.9" cy="1303.9" r="5.8" fill="#000"/>
<circle cx="798.3" cy="1303.9" r="5.8" fill="#000"/>
<circle cx="812.7" cy="1303.9" r="5.8" fill="#000"/>
<circle cx="827.2" cy="1303.9" r="5.8" fill="#000"/>
<circle cx="841.6" cy="1303.9" r="5.8" fill="#000"/>
<circle cx="856.1" cy="1303.9" r="5.8" fill="#000"/>
<circle cx="870.5" cy="1303.9" r="5.8" fill="#000"/>
<circle cx="885" cy="1303.9" r="5.8" fill="#ff0000"/>
<circle cx="899.4" cy="1303.9" r="5.8" fill="#ff0000"/>
<circle cx="913.9" cy="1303.9" r="5.8" fill="#ff0000"/>
<circle cx="928.3" cy="1303.9" r="5.8" fill="#ff0000"/>
<circle cx="942.7" cy="1303.9" r="5.8" fill="#ff0000"/>
<circle cx="957.2" cy="1303.9" r="5.8" fill="#ff0000"/>
<circle cx="971.6" cy="1303.9" r="5.8" fill="#ff0000"/>
<circle cx="986.1" cy="1303.9" r="5.8" fill="#000"/>
<circle cx="1000.5" cy="1303.9" r="5.8" fill="#000"/>
<circle cx="1015" cy="1303.9" r="5.8" fill="#000"/>
<circle cx="1029.4" cy="1303.9" r="5.8" fill="#000"/>
<circle cx="1043.9" cy="1303.9" r="5.8" fill="#000"/>
<circle cx="1058.3" cy="1303.9" r="5.8" fill="#000"/>
<circle cx="1072.7" cy="1303.9" r="5.8" fill="#00ff00"/>
<circle cx="1087.2" cy="1303.9" r="5.8" fill="#00ff00"/>
<circle cx="1101.6" cy="1303.9" r="5.8" fill="#00ff00"/>
<circle cx="1116.1" cy="1303.9" r="5.8" fill="#00ff00"/>
<circle cx="1130.5" cy="1303.9" r="5.8" fill="#00ff00"/>
<circle cx="1145" cy="1303.9" r="5.8" fill="#00ff00"/>
<circle cx="1159.4" cy="1303.9" r="5.8" fill="#000"/>
<circle cx="1173.9" cy="1303.9" r="5.8" fill="#000"/>
<circle cx="1188.3" cy="1303.9" r="5.8" fill="#000"/>
<circle cx="1202.7" cy="1303.9" r="5.8" fill="#ff0000"/>
<circle cx="1217.2" cy="1303.9" r="5.8" fill="#ff0000"/>
<circle cx="1231.6" cy="1303.9" r="5.8" fill="#ff0000"/>
<circle cx="1246.1" cy="1303.9" r="5.8" fill="#00ff00"/>
<circle cx="1260.5" cy="1303.9" r="5.8" fill="#00ff00"/>
<circle cx="1275" cy="1303.9" r="5.8" fill="#00ff00"/>
<circle cx="1289.4" cy="1303.9" r="5.8" fill="#00ff00"/>
<circle cx="1303.9" cy="1303.9" r="5.8" fill="#00ff00"/>
<circle cx="1318.3" cy="1303.9" r="5.8" fill="#00ff00"/>
<circle cx="1332.7" cy="1303.9" r="5.8" fill="#00ff00"/>
<circle cx="1347.2" cy="1303.9" r="5.8" fill="#00ff00"/>
<circle cx="1361.6" cy="1303.9" r="5.8" fill="#000"/>
<circle cx="1376.1" cy="1303.9" r="5.8" fill="#000"/>
<circle cx="1390.5" cy="1303.9" r="5.8" fill="#000"/>
<circle cx="1405" cy="1303.9" r="5.8" fill="#ff0000"/>
<circle cx="1419.4" cy="1303.9" r="5.8" fill="#ff0000"/>
<circle cx="1433.9" cy="1303.9" r="5.8" fill="#ff0000"/>
<circle cx="1448.3" cy="1303.9" r="5.8" fill="#ff0000"/>
<circle cx="1462.8" cy="1303.9" r="5.8" fill="#ff0000"/>
<circle cx="1477.2" cy="1303.9" r="5.8" fill="#ff0000"/>
<circle cx="1491.6" cy="1303.9" r="5.8" fill="#ff0000"/>
<circle cx="1506.1" cy="1303.9" r="5.8" fill="#ff0000"/>
<circle cx="1520.5" cy="1303.9" r="5.8" fill="#ff0000"/>
<circle cx="1535" cy="1303.9" r="5.8" fill="#ff0000"/>
<circle cx="1549.4" cy="1303.9" r="5.8" fill="#ff0000"/>
<circle cx="1563.9" cy="1303.9" r="5.8" fill="#ff0000"/>
<circle cx="1578.3" cy="1303.9" r="5.8" fill="#ff0000"/>
<circle cx="1592.8" cy="1303.9" r="5.8" fill="#ff0000"/>
<circle cx="1607.2" cy="1303.9" r="5.8" fill="#ff0000"/>
<circle cx="1621.6" cy="1303.9" r="5.8" fill="#000"/>
<circle cx="1636.1" cy="1303.9" r="5.8" fill="#000"/>
<circle cx="1650.5" cy="1303.9" r="5.8" fill="#000"/>
<circle cx="1665" cy="1303.9" r="5.8" fill="#000"/>
<circle cx="1679.4" cy="1303.9" r="5.8" fill="#000"/>
<circle cx="1693.9" cy="1303.9" r="5.8" fill="#000"/>
<circle cx="1708.3" cy="1303.9" r="5.8" fill="#000"/>
<circle cx="1722.8" cy="1303.9" r="5.8" fill="#ff0000"/>
<circle cx="1737.2" cy="1303.9" r="5.8" fill="#ff0000"/>
<circle cx="18.3" cy="1323.7" r="5.8" fill="#ff0000"/>
<circle cx="32.7" cy="1323.7" r="5.8" fill="#ff0000"/>
<circle cx="47.2" cy="1323.7" r="5.8" fill="#ffff00"/>
<circle cx="61.6" cy="1323.7" r="5.8" fill="#00ff00"/>
<circle cx="76.1" cy="1323.7" r="5.8" fill="#00ff00"/>
<circle cx="90.5" cy="1323.7" r="5.8" fill="#00ff00"/>
<circle cx="105" cy="1323.7" r="5.8" fill="#00ff00"/>
<circle cx="119.4" cy="1323.7" r="5.8" fill="#00ff00"/>
<circle cx="133.9" cy="1323.7" r="5.8" fill="#00ff00"/>
<circle cx="148.3" cy="1323.7" r="5.8" fill="#000"/>
<circle cx="162.7" cy="1323.7" r="5.8" fill="#ff0000"/>
<circle cx="177.2" cy="1323.7" r="5.8" fill="#ff0000"/>
<circle cx="191.6" cy="1323.7" r="5.8" fill="#ff0000"/>
<circle cx="206.1" cy="1323.7" r="5.8" fill="#ff0000"/>
<circle cx="220.5" cy="1323.7" r="5.8" fill="#ff0000"/>
<circle cx="235" cy="1323.7" r="5.8" fill="#ff0000"/>
<circle cx="249.4" cy="1323.7" r="5.8" fill="#ff0000"/>
<circle cx="263.9" cy="1323.7" r="5.8" fill="#ff0000"/>
<circle cx="278.3" cy="1323.7" r="5.8" fill="#ff0000"/>
<circle cx="292.7" cy="1323.7" r="5.8" fill="#ff0000"/>
<circle cx="307.2" cy="1323.7" r="5.8" fill="#ff0000"/>
<circle cx="321.6" cy="1323.7" r="5.8" fill="#ff0000"/>
<circle cx="336.1" cy="1323.7" r="5.8" fill="#ff0000"/>
<circle cx="350.5" cy="1323.7" r="5.8" fill="#ff0000"/>
<circle cx="365" cy="1323.7" r="5.8" fill="#ff0000"/>
<circle cx="379.4" cy="1323.7" r="5.8" fill="#ff0000"/>
<circle cx="393.9" cy="1323.7" r="5.8" fill="#ff0000"/>
<circle cx="408.3" cy="1323.7" r="5.8" fill="#ff0000"/>
<circle cx="422.7" cy="1323.7" r="5.8" fill="#ff0000"/>
<circle cx="437.2" cy="1323.7" r="5.8" fill="#ff0000"/>
<circle cx="451.6" cy="1323.7" r="5.8" fill="#ff0000"/>
<circle cx="466.1" cy="1323.7" r="5.8" fill="#ff0000"/>
<circle cx="480.5" cy="1323.7" r="5.8" fill="#ff0000"/>
<circle cx="495" cy="1323.7" r="5.8" fill="#ff0000"/>
<circle cx="509.4" cy="1323.7" r="5.8" fill="#ff0000"/>
<circle cx="523.9" cy="1323.7" r="5.8" fill="#ff0000"/>
<circle cx="538.3" cy="1323.7" r="5.8" fill="#ff0000"/>
<circle cx="552.7" cy="1323.7" r="5.8" fill="#ff0000"/>
<circle cx="567.2" cy="1323.7" r="5.8" fill="#ff0000"/>
<circle cx="581.6" cy="1323.7" r="5.8" fill="#ff0000"/>
<circle cx="596.1" cy="1323.7" r="5.8" fill="#ff0000"/>
<circle cx="610.5" cy="1323.7" r="5.8" fill="#ffff00"/>
<circle cx="625" cy="1323.7" r="5.8" fill="#00ff00"/>
<circle cx="639.4" cy="1323.7" r="5.8" fill="#00ff00"/>
<circle cx="653.9" cy="1323.7" r="5.8" fill="#00ff00"/>
<circle cx="668.3" cy="1323.7" r="5.8" fill="#00ff00"/>
<circle cx="682.7" cy="1323.7" r="5.8" fill="#00ff00"/>
<circle cx="697.2" cy="1323.7" r="5.8" fill="#00ff00"/>
<circle cx="711.6" cy="1323.7" r="5.8" fill="#00ff00"/>
<circle cx="726.1" cy="1323.7" r="5.8" fill="#00ff00"/>
<circle cx="740.5" cy="1323.7" r="5.8" fill="#00ff00"/>
<circle cx="755" cy="1323.7" r="5.8" fill="#00ff00"/>
<circle cx="769.4" cy="1323.7" r="5.8" fill="#00ff00"/>
<circle cx="783.9" cy="1323.7" r="5.8" fill="#00ff00"/>
<circle cx="798.3" cy="1323.7" r="5.8" fill="#00ff00"/>
<circle cx="812.7" cy="1323.7" r="5.8" fill="#00ff00"/>
<circle cx="827.2" cy="1323.7" r="5.8" fill="#00ff00"/>
<circle cx="841.6" cy="1323.7" r="5.8" fill="#00ff00"/>
<circle cx="856.1" cy="1323.7" r="5.8" fill="#00ff00"/>
<circle cx="870.5" cy="1323.7" r="5.8" fill="#00ff00"/>
<circle cx="885" cy="1323.7" r="5.8" fill="#00ff00"/>
<circle cx="899.4" cy="1323.7" r="5.8" fill="#00ff00"/>
<circle cx="913.9" cy="1323.7" r="5.8" fill="#00ff00"/>
<circle cx="928.3" cy="1323.7" r="5.8" fill="#000"/>
<circle cx="942.7" cy="1323.7" r="5.8" fill="#000"/>
<circle cx="957.2" cy="1323.7" r="5.8" fill="#000"/>
<circle cx="971.6" cy="1323.7" r="5.8" fill="#ff0000"/>
<circle cx="986.1" cy="1323.7" r="5.8" fill="#ff0000"/>
<circle cx="1000.5" cy="1323.7" r="5.8" fill="#ff0000"/>
<circle cx="1015" cy="1323.7" r="5.8" fill="#ff0000"/>
<circle cx="1029.4" cy="1323.7" r="5.8" fill="#ff0000"/>
<circle cx="1043.9" cy="1323.7" r="5.8" fill="#ff0000"/>
<circle cx="1058.3" cy="1323.7" r="5.8" fill="#ff0000"/>
<circle cx="1072.7" cy="1323.7" r="5.8" fill="#ff0000"/>
<circle cx="1087.2" cy="1323.7" r="5.8" fill="#ff0000"/>
<circle cx="1101.6" cy="1323.7" r="5.8" fill="#ff0000"/>
<circle cx="1116.1" cy="1323.7" r="5.8" fill="#ff0000"/>
<circle cx="1130.5" cy="1323.7" r="5.8" fill="#ff0000"/>
<circle cx="1145" cy="1323.7" r="5.8" fill="#ff0000"/>
<circle cx="1159.4" cy="1323.7" r="5.8" fill="#ff0000"/>
<circle cx="1173.9" cy="1323.7" r="5.8" fill="#ff0000"/>
<circle cx="1188.3" cy="1323.7" r="5.8" fill="#ff0000"/>
<circle cx="1202.7" cy="1323.7" r="5.8" fill="#ff0000"/>
<circle cx="1217.2" cy="1323.7" r="5.8" fill="#ff0000"/>
<circle cx="1231.6" cy="1323.7" r="5.8" fill="#ff0000"/>
<circle cx="1246.1" cy="1323.7" r="5.8" fill="#ff0000"/>
<circle cx="1260.5" cy="1323.7" r="5.8" fill="#ff0000"/>
<circle cx="1275" cy="1323.7" r="5.8" fill="#ffff00"/>
<circle cx="1289.4" cy="1323.7" r="5.8" fill="#00ff00"/>
<circle cx="1303.9" cy="1323.7" r="5.8" fill="#00ff00"/>
<circle cx="1318.3" cy="1323.7" r="5.8" fill="#00ff00"/>
<circle cx="1332.7" cy="1323.7" r="5.8" fill="#00ff00"/>
<circle cx="1347.2" cy="1323.7" r="5.8" fill="#00ff00"/>
<circle cx="1361.6" cy="1323.7" r="5.8" fill="#00ff00"/>
<circle cx="1376.1" cy="1323.7" r="5.8" fill="#00ff00"/>
<circle cx="1390.5" cy="1323.7" r="5.8" fill="#00ff00"/>
<circle cx="1405" cy="1323.7" r="5.8" fill="#00ff00"/>
<circle cx="1419.4" cy="1323.7" r="5.8" fill="#00ff00"/>
<circle cx="1433.9" cy="1323.7" r="5.8" fill="#00ff00"/>
<circle cx="1448.3" cy="1323.7" r="5.8" fill="#000"/>
<circle cx="1462.8" cy="1323.7" r="5.8" fill="#000"/>
<circle cx="1477.2" cy="1323.7" r="5.8" fill="#000"/>
<circle cx="1491.6" cy="1323.7" r="5.8" fill="#ff0000"/>
<circle cx="1506.1" cy="1323.7" r="5.8" fill="#ff0000"/>
<circle cx="1520.5" cy="1323.7" r="5.8" fill="#ff0000"/>
<circle cx="1535" cy="1323.7" r="5.8" fill="#ff0000"/>
<circle cx="1549.4" cy="1323.7" r="5.8" fill="#ff0000"/>
<circle cx="1563.9" cy="1323.7" r="5.8" fill="#ff0000"/>
<circle cx="1578.3" cy="1323.7" r="5.8" fill="#ff0000"/>
<circle cx="1592.8" cy="1323.7" r="5.8" fill="#ff0000"/>
<circle cx="1607.2" cy="1323.7" r="5.8" fill="#ff0000"/>
<circle cx="1621.6" cy="1323.7" r="5.8" fill="#ff0000"/>
<circle cx="1636.1" cy="1323.7" r="5.8" fill="#ff0000"/>
<circle cx="1650.5" cy="1323.7" r="5.8" fill="#ff0000"/>
<circle cx="1665" cy="1323.7" r="5.8" fill="#ff0000"/>
<circle cx="1679.4" cy="1323.7" r="5.8" fill="#ff0000"/>
<circle cx="1693.9" cy="1323.7" r="5.8" fill="#ff0000"/>
<circle cx="1708.3" cy="1323.7" r="5.8" fill="#ff0000"/>
<circle cx="1722.8" cy="1323.7" r="5.8" fill="#ff0000"/>
<circle cx="1737.2" cy="1323.7" r="5.8" fill="#ff0000"/>
</g>
<rect x="0" y="1145.3" width="13.8" height="195.70000000000005" fill="#fff"/>
<defs><linearGradient id="gU" gradientUnits="userSpaceOnUse" x1="0" y1="1350.4" x2="0" y2="1387.4"><stop offset="0" stop-color="#4caf50"/><stop offset="1" stop-color="#4caf50" stop-opacity="0"/></linearGradient><linearGradient id="gD" gradientUnits="userSpaceOnUse" x1="0" y1="1436.7" x2="0" y2="1473.7"><stop offset="0" stop-color="#ff5252" stop-opacity="0"/><stop offset="1" stop-color="#ff5252"/></linearGradient><clipPath id="cU"><rect x="0" y="0" width="2500" height="1387.4"/></clipPath><clipPath id="cD"><rect x="0" y="1436.7" width="2500" height="200"/></clipPath></defs>
<g clip-path="url(#cU)"><polygon points="14.5,1387.4 14.5,1405.6 18.3,1401.8 32.7,1396.1 47.2,1392.3 61.6,1390.6 76.1,1394.3 90.5,1405.6 105,1424.7 119.4,1421 133.9,1422.7 148.3,1445.4 162.7,1454.1 177.2,1454.9 191.6,1419.8 206.1,1411 220.5,1409.3 235,1402.8 249.4,1407.3 263.9,1404.8 278.3,1416.5 292.7,1416.5 307.2,1407.3 321.6,1404.8 336.1,1400.3 350.5,1404.3 365,1428.5 379.4,1440.9 393.9,1442.4 408.3,1433.7 422.7,1439.2 437.2,1443.2 451.6,1440.4 466.1,1438.7 480.5,1429 495,1435.7 509.4,1437.4 523.9,1434.7 538.3,1396.1 552.7,1395.3 567.2,1397.3 581.6,1396.6 596.1,1392.3 610.5,1378.6 625,1356 639.4,1355.2 653.9,1355.5 668.3,1355.2 682.7,1355 697.2,1360 711.6,1392.8 726.1,1385.4 740.5,1381.9 755,1383.1 769.4,1381.1 783.9,1376.9 798.3,1370.4 812.7,1374.9 827.2,1372.4 841.6,1404.8 856.1,1427.2 870.5,1427.5 885,1449.2 899.4,1434.2 913.9,1436 928.3,1421.8 942.7,1425.2 957.2,1422.7 971.6,1424.2 986.1,1425.5 1000.5,1422.2 1015,1405.6 1029.4,1399.1 1043.9,1399.1 1058.3,1408 1072.7,1406.8 1087.2,1409.5 1101.6,1404.3 1116.1,1399.3 1130.5,1400.6 1145,1436 1159.4,1416.5 1173.9,1420.3 1188.3,1407.3 1202.7,1413 1217.2,1411 1231.6,1397.3 1246.1,1399.3 1260.5,1401.1 1275,1384.1 1289.4,1380.1 1303.9,1382.9 1318.3,1403.8 1332.7,1394.8 1347.2,1404.8 1361.6,1415.8 1376.1,1416.5 1390.5,1417.3 1405,1428.5 1419.4,1420.5 1433.9,1425.2 1448.3,1428.7 1462.8,1418 1477.2,1423 1491.6,1432 1506.1,1423.7 1520.5,1417 1535,1445.2 1549.4,1429.7 1563.9,1418 1578.3,1437.2 1592.8,1422.7 1607.2,1425.2 1621.6,1426.5 1636.1,1428.5 1650.5,1432.7 1665,1435 1679.4,1421 1693.9,1417.8 1708.3,1441.9 1722.8,1437.9 1737.2,1433.5 1737.2,1387.4" fill="url(#gU)"/></g>
<g clip-path="url(#cD)"><polygon points="14.5,1436.7 14.5,1405.6 18.3,1401.8 32.7,1396.1 47.2,1392.3 61.6,1390.6 76.1,1394.3 90.5,1405.6 105,1424.7 119.4,1421 133.9,1422.7 148.3,1445.4 162.7,1454.1 177.2,1454.9 191.6,1419.8 206.1,1411 220.5,1409.3 235,1402.8 249.4,1407.3 263.9,1404.8 278.3,1416.5 292.7,1416.5 307.2,1407.3 321.6,1404.8 336.1,1400.3 350.5,1404.3 365,1428.5 379.4,1440.9 393.9,1442.4 408.3,1433.7 422.7,1439.2 437.2,1443.2 451.6,1440.4 466.1,1438.7 480.5,1429 495,1435.7 509.4,1437.4 523.9,1434.7 538.3,1396.1 552.7,1395.3 567.2,1397.3 581.6,1396.6 596.1,1392.3 610.5,1378.6 625,1356 639.4,1355.2 653.9,1355.5 668.3,1355.2 682.7,1355 697.2,1360 711.6,1392.8 726.1,1385.4 740.5,1381.9 755,1383.1 769.4,1381.1 783.9,1376.9 798.3,1370.4 812.7,1374.9 827.2,1372.4 841.6,1404.8 856.1,1427.2 870.5,1427.5 885,1449.2 899.4,1434.2 913.9,1436 928.3,1421.8 942.7,1425.2 957.2,1422.7 971.6,1424.2 986.1,1425.5 1000.5,1422.2 1015,1405.6 1029.4,1399.1 1043.9,1399.1 1058.3,1408 1072.7,1406.8 1087.2,1409.5 1101.6,1404.3 1116.1,1399.3 1130.5,1400.6 1145,1436 1159.4,1416.5 1173.9,1420.3 1188.3,1407.3 1202.7,1413 1217.2,1411 1231.6,1397.3 1246.1,1399.3 1260.5,1401.1 1275,1384.1 1289.4,1380.1 1303.9,1382.9 1318.3,1403.8 1332.7,1394.8 1347.2,1404.8 1361.6,1415.8 1376.1,1416.5 1390.5,1417.3 1405,1428.5 1419.4,1420.5 1433.9,1425.2 1448.3,1428.7 1462.8,1418 1477.2,1423 1491.6,1432 1506.1,1423.7 1520.5,1417 1535,1445.2 1549.4,1429.7 1563.9,1418 1578.3,1437.2 1592.8,1422.7 1607.2,1425.2 1621.6,1426.5 1636.1,1428.5 1650.5,1432.7 1665,1435 1679.4,1421 1693.9,1417.8 1708.3,1441.9 1722.8,1437.9 1737.2,1433.5 1737.2,1436.7" fill="url(#gD)"/></g>
<polyline points="15,1410.5 32.4,1408 62.3,1406.3 87.2,1404.8 112.1,1406.1 134.6,1407.8 149.5,1411.8 176.9,1418 206.8,1417.3 234.2,1418.3 264.1,1420.3 292.8,1422.5 321.5,1420.3 336.4,1418.5 350.6,1415.8 365.1,1413.5 379.5,1412.5 394,1414 423.6,1418.5 451.8,1423.5 466.2,1425.5 480.9,1426.5 495.1,1428.5 509.6,1430.5 524,1432 538.5,1431.7 553,1431 567.4,1429 581.9,1426 600,1421.5 610,1418.5 634.8,1408.5 659.7,1397.3 684.6,1387.9 699.5,1382.9 727,1376.1 754.4,1374.4 784.3,1371.7 799.2,1370.2 812.7,1369.9 827.1,1371.2 841.6,1374.9 856,1379.9 870.5,1385.4 885,1392.3 899.4,1397.3 913.9,1400.3 928.3,1402.8 942.8,1406.1 957.2,1409 971.7,1412.3 986.1,1416 1000.6,1419.3 1015,1421.8 1029.5,1423.2 1043.9,1423 1058.4,1421.8 1072.8,1420 1087.3,1417.5 1101.7,1415.5 1116.2,1413 1130.6,1411.3 1145.1,1411.8 1160,1411.5 1184.9,1409.3 1217.3,1409.3 1259.7,1408.8 1274.6,1406.8 1289.6,1404.8 1303.8,1403.6 1318.2,1403.8 1332.7,1403.1 1347.1,1401.3 1376,1400.8 1390.5,1401.8 1419.4,1403.6 1448.3,1407.3 1462.5,1408.5 1477,1411.5 1491.4,1414.8 1505.9,1417.5 1520.3,1419 1534.8,1422.2 1549.2,1424 1563.7,1424.7 1578.1,1425.7 1592.6,1426.2 1607,1426 1621.5,1426.5 1636,1426.7 1650.4,1427.2 1664.9,1428 1679.3,1428 1693.8,1427.2 1708.2,1428.7 1722.7,1430 1737.1,1429.2" fill="none" stroke="#fdd835" stroke-width="1.6" stroke-linejoin="round"/>
<polyline points="14.5,1405.6 18.3,1401.8 32.7,1396.1 47.2,1392.3 61.6,1390.6 76.1,1394.3 90.5,1405.6 105,1424.7 119.4,1421 133.9,1422.7 148.3,1445.4 162.7,1454.1 177.2,1454.9 191.6,1419.8 206.1,1411 220.5,1409.3 235,1402.8 249.4,1407.3 263.9,1404.8 278.3,1416.5 292.7,1416.5 307.2,1407.3 321.6,1404.8 336.1,1400.3 350.5,1404.3 365,1428.5 379.4,1440.9 393.9,1442.4 408.3,1433.7 422.7,1439.2 437.2,1443.2 451.6,1440.4 466.1,1438.7 480.5,1429 495,1435.7 509.4,1437.4 523.9,1434.7 538.3,1396.1 552.7,1395.3 567.2,1397.3 581.6,1396.6 596.1,1392.3 610.5,1378.6 625,1356 639.4,1355.2 653.9,1355.5 668.3,1355.2 682.7,1355 697.2,1360 711.6,1392.8 726.1,1385.4 740.5,1381.9 755,1383.1 769.4,1381.1 783.9,1376.9 798.3,1370.4 812.7,1374.9 827.2,1372.4 841.6,1404.8 856.1,1427.2 870.5,1427.5 885,1449.2 899.4,1434.2 913.9,1436 928.3,1421.8 942.7,1425.2 957.2,1422.7 971.6,1424.2 986.1,1425.5 1000.5,1422.2 1015,1405.6 1029.4,1399.1 1043.9,1399.1 1058.3,1408 1072.7,1406.8 1087.2,1409.5 1101.6,1404.3 1116.1,1399.3 1130.5,1400.6 1145,1436 1159.4,1416.5 1173.9,1420.3 1188.3,1407.3 1202.7,1413 1217.2,1411 1231.6,1397.3 1246.1,1399.3 1260.5,1401.1 1275,1384.1 1289.4,1380.1 1303.9,1382.9 1318.3,1403.8 1332.7,1394.8 1347.2,1404.8 1361.6,1415.8 1376.1,1416.5 1390.5,1417.3 1405,1428.5 1419.4,1420.5 1433.9,1425.2 1448.3,1428.7 1462.8,1418 1477.2,1423 1491.6,1432 1506.1,1423.7 1520.5,1417 1535,1445.2 1549.4,1429.7 1563.9,1418 1578.3,1437.2 1592.8,1422.7 1607.2,1425.2 1621.6,1426.5 1636.1,1428.5 1650.5,1432.7 1665,1435 1679.4,1421 1693.9,1417.8 1708.3,1441.9 1722.8,1437.9 1737.2,1433.5" fill="none" stroke="#7e57c2" stroke-width="1.7" stroke-linejoin="round"/>
<g stroke="#e9e9ec" stroke-width="1.4" fill="none"><rect x="14.5" y="40" width="2471.0" height="1467.5"/><path d="M14.5 1144.3H2485.5M14.5 1342H2485.5"/></g>
<g font-size="17" fill="#131722">
<text x="2397" y="130.4" textLength="47.2" lengthAdjust="spacingAndGlyphs">66.00</text>
<text x="2397" y="216.8" textLength="47.2" lengthAdjust="spacingAndGlyphs">64.00</text>
<text x="2397" y="261" textLength="47.2" lengthAdjust="spacingAndGlyphs">63.00</text>
<text x="2397" y="306" textLength="47.2" lengthAdjust="spacingAndGlyphs">62.00</text>
<text x="2397" y="351.6" textLength="47.2" lengthAdjust="spacingAndGlyphs">61.00</text>
<text x="2397" y="398" textLength="47.2" lengthAdjust="spacingAndGlyphs">60.00</text>
<text x="2397" y="445.2" textLength="47.2" lengthAdjust="spacingAndGlyphs">59.00</text>
<text x="2397" y="493.3" textLength="47.2" lengthAdjust="spacingAndGlyphs">58.00</text>
<text x="2397" y="542.1" textLength="47.2" lengthAdjust="spacingAndGlyphs">57.00</text>
<text x="2397" y="591.8" textLength="47.2" lengthAdjust="spacingAndGlyphs">56.00</text>
<text x="2397" y="693.9" textLength="47.2" lengthAdjust="spacingAndGlyphs">54.00</text>
<text x="2397" y="746.4" textLength="47.2" lengthAdjust="spacingAndGlyphs">53.00</text>
<text x="2397" y="799.9" textLength="47.2" lengthAdjust="spacingAndGlyphs">52.00</text>
<text x="2397" y="854.5" textLength="47.2" lengthAdjust="spacingAndGlyphs">51.00</text>
<text x="2397" y="910.1" textLength="47.2" lengthAdjust="spacingAndGlyphs">50.00</text>
<text x="2397" y="955.4" textLength="47.2" lengthAdjust="spacingAndGlyphs">49.20</text>
<text x="2397" y="1001.4" textLength="47.2" lengthAdjust="spacingAndGlyphs">48.40</text>
<text x="2397" y="1048.2" textLength="47.2" lengthAdjust="spacingAndGlyphs">47.60</text>
<text x="2397" y="1095.8" textLength="47.2" lengthAdjust="spacingAndGlyphs">46.80</text>
<text x="2397" y="1141.2" textLength="47.2" lengthAdjust="spacingAndGlyphs">46.05</text>
<text x="2397" y="1160.9" textLength="47.2" lengthAdjust="spacingAndGlyphs">15.00</text>
<text x="2397" y="1210.8" textLength="47.2" lengthAdjust="spacingAndGlyphs">12.50</text>
<text x="2397" y="1260.6" textLength="47.2" lengthAdjust="spacingAndGlyphs">10.00</text>
<text x="2397" y="1310.4" textLength="37.8" lengthAdjust="spacingAndGlyphs">7.50</text>
<text x="2397" y="1381.1" textLength="47.2" lengthAdjust="spacingAndGlyphs">80.00</text>
</g>
<rect x="2384.7" y="252.5" width="68.5" height="23.9" rx="2.5" fill="#f23645"/>
<text x="2397" y="270.6" font-size="17" fill="#fff" textLength="47.2" lengthAdjust="spacingAndGlyphs">62.77</text>
<rect x="2384.7" y="549.8" width="68.5" height="24" rx="2.5" fill="#b8b8b8"/>
<text x="2397" y="567.9" font-size="17" fill="#000" textLength="47.2" lengthAdjust="spacingAndGlyphs">56.47</text>
<rect x="2384.7" y="575.1" width="68.5" height="23.6" rx="2.5" fill="#808080"/>
<text x="2397" y="593" font-size="17" fill="#fff" textLength="47.2" lengthAdjust="spacingAndGlyphs">55.98</text>
<rect x="2384.7" y="605.3" width="68.5" height="24.3" rx="2.5" fill="#f23645"/>
<text x="2397" y="623.6" font-size="17" fill="#fff" textLength="47.2" lengthAdjust="spacingAndGlyphs">54.97</text>
<rect x="2384.7" y="630.2" width="68.5" height="24.3" rx="2.5" fill="#ff0000"/>
<text x="2397" y="648.5" font-size="17" fill="#fff" textLength="47.2" lengthAdjust="spacingAndGlyphs">54.88</text>
<rect x="2384.7" y="1065.9" width="93.3" height="24.4" rx="2.5" fill="#26a69a"/>
<text x="2397" y="1084.2" font-size="17" fill="#fff" textLength="70" lengthAdjust="spacingAndGlyphs">155.86 K</text>
<rect x="2384.7" y="1397" width="68.5" height="23.7" rx="2.5" fill="#fdd835"/>
<text x="2397" y="1414.9" font-size="17" fill="#000" textLength="47.2" lengthAdjust="spacingAndGlyphs">35.94</text>
<rect x="2384.7" y="1422.2" width="68.5" height="24" rx="2.5" fill="#7e57c2"/>
<text x="2397" y="1440.3" font-size="17" fill="#fff" textLength="47.2" lengthAdjust="spacingAndGlyphs">32.39</text>
<rect x="2389.5" y="45" width="90" height="37.5" rx="5" fill="#fff" stroke="#ececf0" stroke-width="1.3"/>
<text x="2402.7" y="69.8" font-size="17" fill="#131722" textLength="36" lengthAdjust="spacingAndGlyphs">USD</text>
<g font-size="17" fill="#131722" text-anchor="middle">
<text x="23.3" y="1494.6">4</text>
<text x="105" y="1494.6">16</text>
<text x="191.6" y="1494.6">21</text>
<text x="278.3" y="1494.6">23</text>
<text x="365" y="1494.6">27</text>
<text x="451.6" y="1494.6">29</text>
<text x="538.3" y="1494.6" font-weight="bold">Feb</text>
<text x="625" y="1494.6">4</text>
<text x="711.6" y="1494.6">6</text>
<text x="798.3" y="1494.6">10</text>
<text x="885" y="1494.6">12</text>
<text x="971.6" y="1494.6">17</text>
<text x="1058.3" y="1494.6">19</text>
<text x="1145" y="1494.6">23</text>
<text x="1231.6" y="1494.6">25</text>
<text x="1361.4" y="1494.6" font-weight="bold">Mar</text>
<text x="1448.1" y="1494.6">4</text>
<text x="1534.7" y="1494.6">6</text>
<text x="1621.4" y="1494.6">10</text>
<text x="1708.1" y="1494.6">12</text>
<text x="1794.7" y="1494.6">16</text>
<text x="1881.4" y="1494.6">18</text>
<text x="1968.1" y="1494.6">20</text>
<text x="2054.7" y="1494.6">24</text>
<text x="2141.4" y="1494.6">26</text>
<text x="2228.1" y="1494.6">30</text>
<text x="2314.7" y="1494.6" font-weight="bold">Apr</text>
</g>
<text x="14.8" y="29.7" font-size="18.4" fill="#131722" textLength="548.5" lengthAdjust="spacingAndGlyphs">fx_huhn created with TradingView.com, Mar 13, 2026 13:53 UTC+1</text>
<g font-size="18.2" fill="#131722">
<text x="26.6" y="68.4" textLength="256.4" lengthAdjust="spacingAndGlyphs">Fortive Corporation · 3h · NYSE</text><text x="293.9" y="68.4" textLength="404.9" lengthAdjust="spacingAndGlyphs" xml:space="preserve">O<tspan fill="#089981">54.73</tspan>  H<tspan fill="#089981">54.97</tspan>  L<tspan fill="#089981">54.48</tspan>  C<tspan fill="#089981">54.88</tspan>  <tspan fill="#089981">+0.16 (+0.28%)</tspan></text>
<text x="26.6" y="93.3">Vol</text><text x="62" y="93.3" fill="#26a69a" textLength="68.8" lengthAdjust="spacingAndGlyphs">155.86 K</text>
<text x="26.6" y="118.3" textLength="253.4" lengthAdjust="spacingAndGlyphs">Croc 3.0 Chart - Basic (on, off)</text>
<text x="26.6" y="143" textLength="129.5" lengthAdjust="spacingAndGlyphs">SMA (20, close)</text><text x="168" y="143" fill="#b8b8b8" textLength="45.6" lengthAdjust="spacingAndGlyphs">56.47</text>
<text x="26.6" y="168" textLength="140.3" lengthAdjust="spacingAndGlyphs">SMA (200, close)</text><text x="179" y="168" fill="#808080" textLength="46.5" lengthAdjust="spacingAndGlyphs">55.98</text>
<text x="26.6" y="192.7" textLength="295.8" lengthAdjust="spacingAndGlyphs">Croc Vibes Blues Pro - Clean Labels</text>
<text x="26.6" y="1174.3" textLength="238.6" lengthAdjust="spacingAndGlyphs">Croc 3.0 Lochstreifen - Basic</text>
<text x="884.7" y="1161.5" text-anchor="middle" textLength="233" lengthAdjust="spacingAndGlyphs">ICE Trading Deluxe Big Point</text>
<text x="885.5" y="1212.5" text-anchor="middle" textLength="561" lengthAdjust="spacingAndGlyphs">Von oben: Status / Kerzenfarbe / Wolkenfarbe / Trend / Setter / Welle</text>
<text x="26.6" y="1371.5" textLength="105.8" lengthAdjust="spacingAndGlyphs">RSI (7, close)</text><text x="144.5" y="1371.5" fill="#7e57c2" textLength="46.5" lengthAdjust="spacingAndGlyphs">32.39</text><text x="202.6" y="1371.5" fill="#fdd835" textLength="46" lengthAdjust="spacingAndGlyphs">35.94</text>
</g>
<g fill="#131313"><path d="M17.4 1539.6H34.9V1561.4H25.9V1548.3H17.4Z"/><circle cx="42.4" cy="1543.9" r="4.4"/><path d="M50.5 1539.6H61L53 1561.4H42.4Z"/>
<text x="71.3" y="1561.4" font-size="30.5" font-weight="bold" stroke="#131313" stroke-width="0.6" textLength="176.6" lengthAdjust="spacingAndGlyphs">TradingView</text></g>
</svg>
</body></html>
